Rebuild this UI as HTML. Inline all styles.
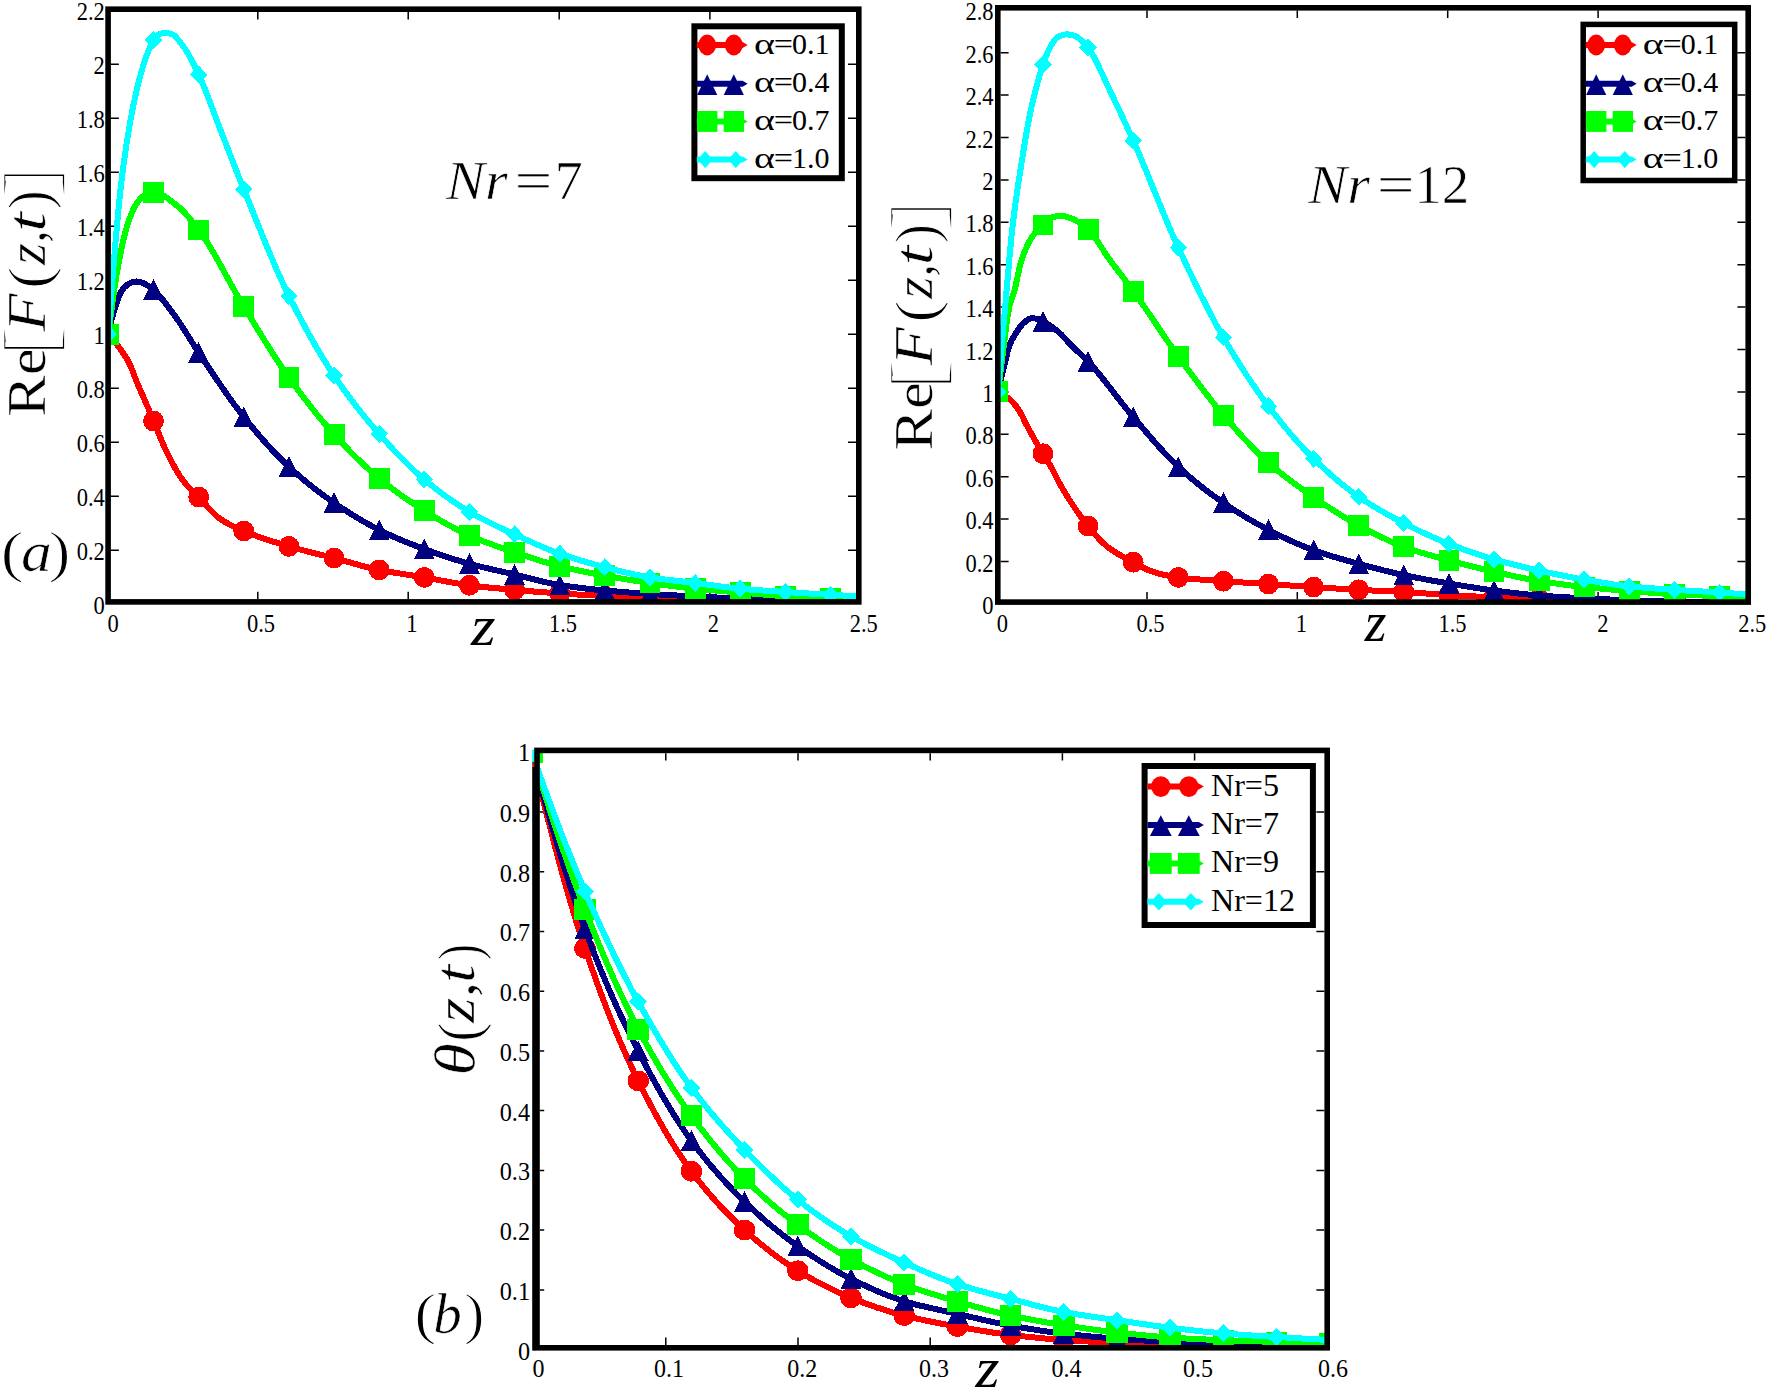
<!DOCTYPE html>
<html lang="en"><head><meta charset="utf-8"><title>Figure</title>
<style>html,body{margin:0;padding:0;background:#fff}svg{display:block}text{font-family:'Liberation Serif', serif;fill:#000}</style>
</head><body>
<svg width="1770" height="1390" viewBox="0 0 1770 1390">
<rect width="1770" height="1390" fill="#fff"/>
<clipPath id="cp1"><rect x="107.3" y="8.4" width="752.3" height="594.3"/></clipPath>
<path d="M257.8 12 v7.4 M257.8 599.1 v-7.4 M408.2 12 v7.4 M408.2 599.1 v-7.4 M559.2 12 v7.4 M559.2 599.1 v-7.4 M709.9 12 v7.4 M709.9 599.1 v-7.4 M110.9 550.2 h8 M856 550.2 h-8 M110.9 496.2 h8 M856 496.2 h-8 M110.9 442.2 h8 M856 442.2 h-8 M110.9 388.2 h8 M856 388.2 h-8 M110.9 334.2 h8 M856 334.2 h-8 M110.9 280.2 h8 M856 280.2 h-8 M110.9 226.2 h8 M856 226.2 h-8 M110.9 172.2 h8 M856 172.2 h-8 M110.9 118.2 h8 M856 118.2 h-8 M110.9 64.2 h8 M856 64.2 h-8" stroke="#000" stroke-width="1.5" fill="none"/>
<g clip-path="url(#cp1)" shape-rendering="crispEdges">
<path d="M108.4 334.2 L110.4 336.5 L112.4 338.8 L114.4 341.3 L116.4 343.9 L118.4 346.5 L120.4 349.2 L122.4 352 L124.4 354.9 L126.4 358.1 L128.4 361.6 L130.4 365.7 L132.4 370.6 L134.4 375.8 L136.4 381.1 L138.4 385.8 L140.4 390.4 L142.4 394.9 L144.4 399.4 L146.4 403.9 L148.4 408.6 L150.4 413.5 L152.4 418.3 L154.4 423.1 L156.4 427.9 L158.4 432.8 L160.4 437.7 L162.4 442.4 L164.4 447 L166.4 451.3 L168.4 455.4 L170.4 459.3 L172.4 463.1 L174.4 466.8 L176.4 470.3 L178.4 473.7 L180.4 476.8 L182.4 479.7 L184.4 482.3 L186.4 484.7 L188.4 486.9 L190.4 489 L192.4 490.9 L194.4 492.9 L196.4 494.8 L198.4 496.8 L200.4 498.9 L202.4 501.1 L204.4 503.4 L206.4 505.6 L208.4 507.8 L210.4 510 L212.4 512.1 L214.4 514.1 L216.4 515.9 L218.4 517.6 L220.4 519 L222.4 520.3 L224.4 521.6 L226.4 522.7 L228.4 523.9 L230.4 524.9 L232.4 525.9 L234.4 526.9 L236.4 527.8 L238.4 528.7 L240.4 529.6 L242.4 530.4 L244.4 531.3 L246.4 532.1 L248.4 532.9 L250.4 533.7 L252.4 534.4 L254.4 535.2 L256.4 535.9 L258.4 536.7 L260.4 537.4 L262.4 538.1 L264.4 538.7 L266.4 539.4 L268.4 540.1 L270.4 540.7 L272.4 541.4 L274.4 542 L276.4 542.6 L278.4 543.2 L280.4 543.9 L282.4 544.5 L284.4 545.1 L286.4 545.7 L288.4 546.2 L290.4 546.8 L292.4 547.4 L294.4 548 L296.4 548.5 L298.4 549.1 L300.4 549.6 L302.4 550.1 L304.4 550.6 L306.4 551.2 L308.4 551.7 L310.4 552.2 L312.4 552.7 L314.4 553.2 L316.4 553.7 L318.4 554.2 L320.4 554.7 L322.4 555.2 L324.4 555.6 L326.4 556.1 L328.4 556.7 L330.4 557.2 L332.4 557.7 L334.4 558.2 L336.4 558.7 L338.4 559.3 L340.4 559.8 L342.4 560.4 L344.4 560.9 L346.4 561.5 L348.4 562 L350.4 562.6 L352.4 563.1 L354.4 563.7 L356.4 564.3 L358.4 564.8 L360.4 565.4 L362.4 565.9 L364.4 566.4 L366.4 566.9 L368.4 567.4 L370.4 567.9 L372.4 568.4 L374.4 568.9 L376.4 569.3 L378.4 569.7 L380.4 570.1 L382.4 570.5 L384.4 570.9 L386.4 571.3 L388.4 571.6 L390.4 572 L392.4 572.3 L394.4 572.7 L396.4 573 L398.4 573.3 L400.4 573.6 L402.4 573.9 L404.4 574.2 L406.4 574.6 L408.4 574.9 L410.4 575.2 L412.4 575.5 L414.4 575.8 L416.4 576.1 L418.4 576.4 L420.4 576.7 L422.4 577.1 L424.4 577.4 L426.4 577.8 L428.4 578.1 L430.4 578.5 L432.4 578.8 L434.4 579.2 L436.4 579.6 L438.4 580 L440.4 580.4 L442.4 580.7 L444.4 581.1 L446.4 581.5 L448.4 581.9 L450.4 582.2 L452.4 582.6 L454.4 583 L456.4 583.3 L458.4 583.6 L460.4 584 L462.4 584.3 L464.4 584.6 L466.4 584.9 L468.4 585.2 L470.4 585.4 L472.4 585.7 L474.4 585.9 L476.4 586.2 L478.4 586.4 L480.4 586.6 L482.4 586.8 L484.4 587.1 L486.4 587.3 L488.4 587.5 L490.4 587.7 L492.4 587.9 L494.4 588.1 L496.4 588.3 L498.4 588.4 L500.4 588.6 L502.4 588.8 L504.4 589 L506.4 589.2 L508.4 589.4 L510.4 589.5 L512.4 589.7 L514.4 589.9 L516.4 590.1 L518.4 590.2 L520.4 590.4 L522.4 590.6 L524.4 590.7 L526.4 590.9 L528.4 591.1 L530.4 591.2 L532.4 591.4 L534.4 591.6 L536.4 591.7 L538.4 591.9 L540.4 592 L542.4 592.2 L544.4 592.3 L546.4 592.5 L548.4 592.6 L550.4 592.8 L552.4 592.9 L554.4 593 L556.4 593.2 L558.4 593.3 L560.4 593.4 L562.4 593.6 L564.4 593.7 L566.4 593.8 L568.4 594 L570.4 594.1 L572.4 594.2 L574.4 594.4 L576.4 594.5 L578.4 594.6 L580.4 594.7 L582.4 594.8 L584.4 595 L586.4 595.1 L588.4 595.2 L590.4 595.3 L592.4 595.4 L594.4 595.5 L596.4 595.6 L598.4 595.8 L600.4 595.9 L602.4 596 L604.4 596.1 L606.4 596.2 L608.4 596.3 L610.4 596.4 L612.4 596.5 L614.4 596.6 L616.4 596.7 L618.4 596.8 L620.4 596.9 L622.4 597 L624.4 597.1 L626.4 597.2 L628.4 597.3 L630.4 597.4 L632.4 597.5 L634.4 597.6 L636.4 597.6 L638.4 597.7 L640.4 597.8 L642.4 597.9 L644.4 598 L646.4 598.1 L648.4 598.1 L650.4 598.2 L652.4 598.3 L654.4 598.4 L656.4 598.4 L658.4 598.5 L660.4 598.6 L662.4 598.6 L664.4 598.7 L666.4 598.8 L668.4 598.8 L670.4 598.9 L672.4 598.9 L674.4 599 L676.4 599.1 L678.4 599.1 L680.4 599.2 L682.4 599.2 L684.4 599.3 L686.4 599.4 L688.4 599.4 L690.4 599.5 L692.4 599.5 L694.4 599.6 L696.4 599.6 L698.4 599.7 L700.4 599.8 L702.4 599.8 L704.4 599.9 L706.4 599.9 L708.4 600 L710.4 600 L712.4 600.1 L714.4 600.1 L716.4 600.2 L718.4 600.3 L720.4 600.3 L722.4 600.4 L724.4 600.4 L726.4 600.5 L728.4 600.5 L730.4 600.6 L732.4 600.6 L734.4 600.7 L736.4 600.7 L738.4 600.8 L740.4 600.8 L742.4 600.8 L744.4 600.9 L746.4 600.9 L748.4 601 L750.4 601 L752.4 601.1 L754.4 601.1 L756.4 601.2 L758.4 601.2 L760.4 601.2 L762.4 601.3 L764.4 601.3 L766.4 601.4 L768.4 601.4 L770.4 601.4 L772.4 601.5 L774.4 601.5 L776.4 601.5 L778.4 601.6 L780.4 601.6 L782.4 601.6 L784.4 601.7 L786.4 601.7 L788.4 601.8 L790.4 601.8 L792.4 601.8 L794.4 601.9 L796.4 601.9 L798.4 601.9 L800.4 602 L802.4 602 L804.4 602 L806.4 602 L808.4 602.1 L810.4 602.1 L812.4 602.1 L814.4 602.2 L816.4 602.2 L818.4 602.2 L820.4 602.3 L822.4 602.3 L824.4 602.3 L826.4 602.3 L828.4 602.4 L830.4 602.4 L832.4 602.4 L834.4 602.5 L836.4 602.5 L838.4 602.5 L840.4 602.5 L842.4 602.6 L844.4 602.6 L846.4 602.6 L848.4 602.6 L850.4 602.7 L852.4 602.7 L854.4 602.7 L856.4 602.7 L858.4 602.8 L860.4 602.8 L860.6 602.8" fill="none" stroke="#ff0000" stroke-width="6" stroke-linejoin="round"/>
<ellipse cx="108.4" cy="334.2" rx="10.4" ry="10.4" fill="#ff0000"/>
<ellipse cx="153.5" cy="421" rx="10.4" ry="10.4" fill="#ff0000"/>
<ellipse cx="198.7" cy="497.1" rx="10.4" ry="10.4" fill="#ff0000"/>
<ellipse cx="243.8" cy="531" rx="10.4" ry="10.4" fill="#ff0000"/>
<ellipse cx="288.9" cy="546.4" rx="10.4" ry="10.4" fill="#ff0000"/>
<ellipse cx="334.1" cy="558.1" rx="10.4" ry="10.4" fill="#ff0000"/>
<ellipse cx="379.2" cy="569.9" rx="10.4" ry="10.4" fill="#ff0000"/>
<ellipse cx="424.3" cy="577.4" rx="10.4" ry="10.4" fill="#ff0000"/>
<ellipse cx="469.4" cy="585.3" rx="10.4" ry="10.4" fill="#ff0000"/>
<ellipse cx="514.6" cy="589.9" rx="10.4" ry="10.4" fill="#ff0000"/>
<ellipse cx="559.7" cy="593.4" rx="10.4" ry="10.4" fill="#ff0000"/>
<ellipse cx="604.8" cy="596.1" rx="10.4" ry="10.4" fill="#ff0000"/>
<ellipse cx="650" cy="598.2" rx="10.4" ry="10.4" fill="#ff0000"/>
<ellipse cx="695.1" cy="599.6" rx="10.4" ry="10.4" fill="#ff0000"/>
<ellipse cx="740.2" cy="600.8" rx="10.4" ry="10.4" fill="#ff0000"/>
<ellipse cx="785.4" cy="601.7" rx="10.4" ry="10.4" fill="#ff0000"/>
<ellipse cx="830.5" cy="602.4" rx="10.4" ry="10.4" fill="#ff0000"/>
<path d="M108.4 334.2 L110.4 324.6 L112.4 316.5 L114.4 309.7 L116.4 303.6 L118.4 297.6 L120.4 293 L122.4 289.7 L124.4 287.3 L126.4 285.5 L128.4 284 L130.4 282.9 L132.4 282.3 L134.4 281.8 L136.4 281.5 L138.4 281.6 L140.4 282 L142.4 282.8 L144.4 283.8 L146.4 284.8 L148.4 286 L150.4 287.4 L152.4 289 L154.4 290.8 L156.4 292.7 L158.4 294.8 L160.4 297 L162.4 299.4 L164.4 301.9 L166.4 304.5 L168.4 307.1 L170.4 309.8 L172.4 312.5 L174.4 315.2 L176.4 318 L178.4 320.9 L180.4 323.9 L182.4 326.9 L184.4 330.1 L186.4 333.2 L188.4 336.4 L190.4 339.6 L192.4 342.8 L194.4 346 L196.4 349.1 L198.4 352.1 L200.4 355.1 L202.4 358.1 L204.4 361.1 L206.4 364.1 L208.4 367.1 L210.4 370 L212.4 373 L214.4 376 L216.4 379 L218.4 381.9 L220.4 384.8 L222.4 387.8 L224.4 390.7 L226.4 393.5 L228.4 396.4 L230.4 399.2 L232.4 401.9 L234.4 404.7 L236.4 407.3 L238.4 410 L240.4 412.6 L242.4 415.2 L244.4 417.7 L246.4 420.1 L248.4 422.6 L250.4 425 L252.4 427.4 L254.4 429.8 L256.4 432.2 L258.4 434.6 L260.4 436.9 L262.4 439.2 L264.4 441.5 L266.4 443.7 L268.4 445.9 L270.4 448.1 L272.4 450.3 L274.4 452.4 L276.4 454.5 L278.4 456.5 L280.4 458.6 L282.4 460.6 L284.4 462.5 L286.4 464.4 L288.4 466.3 L290.4 468.2 L292.4 470 L294.4 471.8 L296.4 473.6 L298.4 475.3 L300.4 477 L302.4 478.7 L304.4 480.4 L306.4 482.1 L308.4 483.7 L310.4 485.3 L312.4 486.9 L314.4 488.5 L316.4 490 L318.4 491.5 L320.4 493 L322.4 494.5 L324.4 496 L326.4 497.4 L328.4 498.9 L330.4 500.3 L332.4 501.7 L334.4 503 L336.4 504.4 L338.4 505.8 L340.4 507.1 L342.4 508.4 L344.4 509.7 L346.4 511 L348.4 512.3 L350.4 513.6 L352.4 514.8 L354.4 516.1 L356.4 517.3 L358.4 518.5 L360.4 519.7 L362.4 520.8 L364.4 522 L366.4 523.1 L368.4 524.2 L370.4 525.3 L372.4 526.4 L374.4 527.5 L376.4 528.5 L378.4 529.5 L380.4 530.5 L382.4 531.5 L384.4 532.4 L386.4 533.4 L388.4 534.3 L390.4 535.3 L392.4 536.2 L394.4 537.1 L396.4 537.9 L398.4 538.8 L400.4 539.7 L402.4 540.5 L404.4 541.3 L406.4 542.2 L408.4 543 L410.4 543.8 L412.4 544.6 L414.4 545.3 L416.4 546.1 L418.4 546.9 L420.4 547.6 L422.4 548.4 L424.4 549.1 L426.4 549.9 L428.4 550.6 L430.4 551.3 L432.4 552 L434.4 552.7 L436.4 553.4 L438.4 554.1 L440.4 554.8 L442.4 555.5 L444.4 556.2 L446.4 556.8 L448.4 557.5 L450.4 558.1 L452.4 558.8 L454.4 559.4 L456.4 560 L458.4 560.6 L460.4 561.2 L462.4 561.8 L464.4 562.4 L466.4 563 L468.4 563.5 L470.4 564.1 L472.4 564.6 L474.4 565.1 L476.4 565.6 L478.4 566.1 L480.4 566.6 L482.4 567.1 L484.4 567.6 L486.4 568.1 L488.4 568.5 L490.4 569 L492.4 569.5 L494.4 569.9 L496.4 570.4 L498.4 570.8 L500.4 571.3 L502.4 571.7 L504.4 572.2 L506.4 572.6 L508.4 573.1 L510.4 573.5 L512.4 574 L514.4 574.5 L516.4 574.9 L518.4 575.4 L520.4 575.9 L522.4 576.4 L524.4 576.9 L526.4 577.4 L528.4 577.9 L530.4 578.5 L532.4 579 L534.4 579.5 L536.4 580 L538.4 580.5 L540.4 581 L542.4 581.5 L544.4 581.9 L546.4 582.4 L548.4 582.8 L550.4 583.3 L552.4 583.7 L554.4 584.1 L556.4 584.4 L558.4 584.8 L560.4 585.1 L562.4 585.4 L564.4 585.7 L566.4 586 L568.4 586.3 L570.4 586.6 L572.4 586.9 L574.4 587.1 L576.4 587.4 L578.4 587.6 L580.4 587.9 L582.4 588.1 L584.4 588.4 L586.4 588.6 L588.4 588.8 L590.4 589 L592.4 589.3 L594.4 589.5 L596.4 589.7 L598.4 589.9 L600.4 590.1 L602.4 590.3 L604.4 590.5 L606.4 590.6 L608.4 590.8 L610.4 591 L612.4 591.2 L614.4 591.4 L616.4 591.5 L618.4 591.7 L620.4 591.9 L622.4 592 L624.4 592.2 L626.4 592.3 L628.4 592.5 L630.4 592.6 L632.4 592.8 L634.4 592.9 L636.4 593.1 L638.4 593.2 L640.4 593.4 L642.4 593.5 L644.4 593.6 L646.4 593.8 L648.4 593.9 L650.4 594 L652.4 594.2 L654.4 594.3 L656.4 594.4 L658.4 594.5 L660.4 594.6 L662.4 594.8 L664.4 594.9 L666.4 595 L668.4 595.1 L670.4 595.2 L672.4 595.3 L674.4 595.4 L676.4 595.5 L678.4 595.6 L680.4 595.7 L682.4 595.9 L684.4 596 L686.4 596.1 L688.4 596.2 L690.4 596.3 L692.4 596.4 L694.4 596.5 L696.4 596.6 L698.4 596.7 L700.4 596.8 L702.4 596.9 L704.4 597 L706.4 597.1 L708.4 597.2 L710.4 597.2 L712.4 597.3 L714.4 597.4 L716.4 597.5 L718.4 597.6 L720.4 597.7 L722.4 597.8 L724.4 597.9 L726.4 598 L728.4 598.1 L730.4 598.2 L732.4 598.3 L734.4 598.3 L736.4 598.4 L738.4 598.5 L740.4 598.6 L742.4 598.7 L744.4 598.8 L746.4 598.9 L748.4 599 L750.4 599.1 L752.4 599.1 L754.4 599.2 L756.4 599.3 L758.4 599.4 L760.4 599.5 L762.4 599.6 L764.4 599.7 L766.4 599.7 L768.4 599.8 L770.4 599.9 L772.4 600 L774.4 600.1 L776.4 600.2 L778.4 600.2 L780.4 600.3 L782.4 600.4 L784.4 600.5 L786.4 600.5 L788.4 600.6 L790.4 600.7 L792.4 600.8 L794.4 600.8 L796.4 600.9 L798.4 601 L800.4 601 L802.4 601.1 L804.4 601.2 L806.4 601.2 L808.4 601.3 L810.4 601.4 L812.4 601.4 L814.4 601.5 L816.4 601.6 L818.4 601.6 L820.4 601.7 L822.4 601.8 L824.4 601.8 L826.4 601.9 L828.4 601.9 L830.4 602 L832.4 602.1 L834.4 602.1 L836.4 602.2 L838.4 602.2 L840.4 602.3 L842.4 602.3 L844.4 602.4 L846.4 602.4 L848.4 602.5 L850.4 602.5 L852.4 602.6 L854.4 602.6 L856.4 602.7 L858.4 602.7 L860.4 602.8 L860.6 602.8" fill="none" stroke="#000080" stroke-width="6" stroke-linejoin="round"/>
<polygon points="108.4,323.6 118.8,344.4 98,344.4" fill="#000080"/>
<polygon points="153.5,279.4 163.9,300.2 143.1,300.2" fill="#000080"/>
<polygon points="198.7,341.9 209.1,362.7 188.3,362.7" fill="#000080"/>
<polygon points="243.8,406.3 254.2,427.1 233.4,427.1" fill="#000080"/>
<polygon points="288.9,456.2 299.3,477 278.5,477" fill="#000080"/>
<polygon points="334.1,492.2 344.4,513 323.7,513" fill="#000080"/>
<polygon points="379.2,519.3 389.6,540.1 368.8,540.1" fill="#000080"/>
<polygon points="424.3,538.5 434.7,559.3 413.9,559.3" fill="#000080"/>
<polygon points="469.4,553.2 479.8,574 459,574" fill="#000080"/>
<polygon points="514.6,563.9 525,584.7 504.2,584.7" fill="#000080"/>
<polygon points="559.7,574.4 570.1,595.2 549.3,595.2" fill="#000080"/>
<polygon points="604.8,579.9 615.2,600.7 594.4,600.7" fill="#000080"/>
<polygon points="650,583.4 660.4,604.2 639.6,604.2" fill="#000080"/>
<polygon points="695.1,585.9 705.5,606.7 684.7,606.7" fill="#000080"/>
<polygon points="740.2,588 750.6,608.8 729.8,608.8" fill="#000080"/>
<polygon points="785.4,589.9 795.8,610.7 775,610.7" fill="#000080"/>
<polygon points="830.5,591.4 840.9,612.2 820.1,612.2" fill="#000080"/>
<path d="M108.4 334.2 L110.4 318 L112.4 302.8 L114.4 288.7 L116.4 275.8 L118.4 264.2 L120.4 253.8 L122.4 244.2 L124.4 235.6 L126.4 228.3 L128.4 222.1 L130.4 216.4 L132.4 211.4 L134.4 207.1 L136.4 203.7 L138.4 201 L140.4 198.6 L142.4 196.6 L144.4 195.1 L146.4 194.1 L148.4 193.2 L150.4 192.6 L152.4 192.2 L154.4 192.1 L156.4 192.4 L158.4 193 L160.4 193.8 L162.4 194.9 L164.4 196.1 L166.4 197.4 L168.4 198.9 L170.4 200.5 L172.4 202 L174.4 203.6 L176.4 205.2 L178.4 206.8 L180.4 208.5 L182.4 210.4 L184.4 212.5 L186.4 214.7 L188.4 217 L190.4 219.4 L192.4 221.8 L194.4 224.4 L196.4 226.9 L198.4 229.6 L200.4 232.2 L202.4 235.1 L204.4 238 L206.4 241.1 L208.4 244.3 L210.4 247.5 L212.4 250.9 L214.4 254.3 L216.4 257.8 L218.4 261.4 L220.4 265 L222.4 268.6 L224.4 272.3 L226.4 275.9 L228.4 279.6 L230.4 283.2 L232.4 286.9 L234.4 290.4 L236.4 294 L238.4 297.5 L240.4 300.9 L242.4 304.3 L244.4 307.6 L246.4 310.9 L248.4 314.1 L250.4 317.4 L252.4 320.7 L254.4 324 L256.4 327.2 L258.4 330.5 L260.4 333.7 L262.4 337 L264.4 340.2 L266.4 343.4 L268.4 346.6 L270.4 349.7 L272.4 352.9 L274.4 356 L276.4 359 L278.4 362.1 L280.4 365.1 L282.4 368 L284.4 371 L286.4 373.8 L288.4 376.7 L290.4 379.5 L292.4 382.2 L294.4 385 L296.4 387.7 L298.4 390.4 L300.4 393.1 L302.4 395.8 L304.4 398.4 L306.4 401 L308.4 403.6 L310.4 406.1 L312.4 408.7 L314.4 411.2 L316.4 413.7 L318.4 416.1 L320.4 418.5 L322.4 420.9 L324.4 423.3 L326.4 425.6 L328.4 428 L330.4 430.2 L332.4 432.5 L334.4 434.7 L336.4 436.9 L338.4 439 L340.4 441.2 L342.4 443.3 L344.4 445.5 L346.4 447.5 L348.4 449.6 L350.4 451.7 L352.4 453.7 L354.4 455.7 L356.4 457.7 L358.4 459.6 L360.4 461.6 L362.4 463.5 L364.4 465.4 L366.4 467.2 L368.4 469.1 L370.4 470.9 L372.4 472.6 L374.4 474.4 L376.4 476.1 L378.4 477.8 L380.4 479.4 L382.4 481 L384.4 482.6 L386.4 484.2 L388.4 485.8 L390.4 487.3 L392.4 488.8 L394.4 490.4 L396.4 491.8 L398.4 493.3 L400.4 494.7 L402.4 496.2 L404.4 497.6 L406.4 499 L408.4 500.3 L410.4 501.7 L412.4 503 L414.4 504.4 L416.4 505.7 L418.4 507 L420.4 508.2 L422.4 509.5 L424.4 510.8 L426.4 512 L428.4 513.2 L430.4 514.5 L432.4 515.7 L434.4 516.9 L436.4 518.1 L438.4 519.2 L440.4 520.4 L442.4 521.6 L444.4 522.7 L446.4 523.8 L448.4 524.9 L450.4 526 L452.4 527.1 L454.4 528.2 L456.4 529.2 L458.4 530.2 L460.4 531.2 L462.4 532.2 L464.4 533.2 L466.4 534.1 L468.4 535 L470.4 535.9 L472.4 536.8 L474.4 537.6 L476.4 538.5 L478.4 539.3 L480.4 540.1 L482.4 540.9 L484.4 541.7 L486.4 542.4 L488.4 543.2 L490.4 543.9 L492.4 544.6 L494.4 545.4 L496.4 546.1 L498.4 546.8 L500.4 547.5 L502.4 548.2 L504.4 548.9 L506.4 549.5 L508.4 550.2 L510.4 550.9 L512.4 551.6 L514.4 552.2 L516.4 552.9 L518.4 553.6 L520.4 554.3 L522.4 554.9 L524.4 555.6 L526.4 556.3 L528.4 556.9 L530.4 557.6 L532.4 558.2 L534.4 558.9 L536.4 559.5 L538.4 560.1 L540.4 560.8 L542.4 561.4 L544.4 562 L546.4 562.6 L548.4 563.2 L550.4 563.7 L552.4 564.3 L554.4 564.8 L556.4 565.4 L558.4 565.9 L560.4 566.4 L562.4 566.9 L564.4 567.3 L566.4 567.8 L568.4 568.3 L570.4 568.7 L572.4 569.2 L574.4 569.6 L576.4 570 L578.4 570.5 L580.4 570.9 L582.4 571.3 L584.4 571.7 L586.4 572.1 L588.4 572.5 L590.4 572.9 L592.4 573.3 L594.4 573.7 L596.4 574 L598.4 574.4 L600.4 574.8 L602.4 575.2 L604.4 575.5 L606.4 575.9 L608.4 576.3 L610.4 576.6 L612.4 577 L614.4 577.3 L616.4 577.7 L618.4 578 L620.4 578.4 L622.4 578.7 L624.4 579 L626.4 579.4 L628.4 579.7 L630.4 580 L632.4 580.3 L634.4 580.7 L636.4 581 L638.4 581.3 L640.4 581.6 L642.4 581.9 L644.4 582.2 L646.4 582.5 L648.4 582.8 L650.4 583.1 L652.4 583.3 L654.4 583.6 L656.4 583.9 L658.4 584.2 L660.4 584.5 L662.4 584.7 L664.4 585 L666.4 585.3 L668.4 585.5 L670.4 585.8 L672.4 586.1 L674.4 586.3 L676.4 586.6 L678.4 586.8 L680.4 587.1 L682.4 587.3 L684.4 587.5 L686.4 587.8 L688.4 588 L690.4 588.2 L692.4 588.4 L694.4 588.6 L696.4 588.8 L698.4 589 L700.4 589.2 L702.4 589.4 L704.4 589.6 L706.4 589.8 L708.4 589.9 L710.4 590.1 L712.4 590.3 L714.4 590.4 L716.4 590.6 L718.4 590.8 L720.4 590.9 L722.4 591.1 L724.4 591.2 L726.4 591.4 L728.4 591.6 L730.4 591.7 L732.4 591.9 L734.4 592 L736.4 592.2 L738.4 592.4 L740.4 592.5 L742.4 592.7 L744.4 592.8 L746.4 593 L748.4 593.2 L750.4 593.4 L752.4 593.5 L754.4 593.7 L756.4 593.9 L758.4 594.1 L760.4 594.2 L762.4 594.4 L764.4 594.6 L766.4 594.7 L768.4 594.9 L770.4 595.1 L772.4 595.2 L774.4 595.4 L776.4 595.5 L778.4 595.7 L780.4 595.8 L782.4 595.9 L784.4 596 L786.4 596.2 L788.4 596.3 L790.4 596.4 L792.4 596.5 L794.4 596.6 L796.4 596.7 L798.4 596.8 L800.4 596.9 L802.4 597 L804.4 597.1 L806.4 597.2 L808.4 597.2 L810.4 597.3 L812.4 597.4 L814.4 597.5 L816.4 597.6 L818.4 597.7 L820.4 597.7 L822.4 597.8 L824.4 597.9 L826.4 598 L828.4 598 L830.4 598.1 L832.4 598.2 L834.4 598.2 L836.4 598.3 L838.4 598.4 L840.4 598.4 L842.4 598.5 L844.4 598.6 L846.4 598.6 L848.4 598.7 L850.4 598.7 L852.4 598.8 L854.4 598.8 L856.4 598.9 L858.4 598.9 L860.4 599 L860.6 599" fill="none" stroke="#00ff00" stroke-width="6" stroke-linejoin="round"/>
<rect x="98" y="323.8" width="20.9" height="20.9" fill="#00ff00"/>
<rect x="143.1" y="181.7" width="20.9" height="20.9" fill="#00ff00"/>
<rect x="188.2" y="219.5" width="20.9" height="20.9" fill="#00ff00"/>
<rect x="233.3" y="296.2" width="20.9" height="20.9" fill="#00ff00"/>
<rect x="278.5" y="366.9" width="20.9" height="20.9" fill="#00ff00"/>
<rect x="323.6" y="423.9" width="20.9" height="20.9" fill="#00ff00"/>
<rect x="368.7" y="467.9" width="20.9" height="20.9" fill="#00ff00"/>
<rect x="413.9" y="500.2" width="20.9" height="20.9" fill="#00ff00"/>
<rect x="459" y="525" width="20.9" height="20.9" fill="#00ff00"/>
<rect x="504.1" y="541.8" width="20.9" height="20.9" fill="#00ff00"/>
<rect x="549.2" y="555.8" width="20.9" height="20.9" fill="#00ff00"/>
<rect x="594.4" y="565.1" width="20.9" height="20.9" fill="#00ff00"/>
<rect x="639.5" y="572.5" width="20.9" height="20.9" fill="#00ff00"/>
<rect x="684.6" y="578.2" width="20.9" height="20.9" fill="#00ff00"/>
<rect x="729.8" y="582" width="20.9" height="20.9" fill="#00ff00"/>
<rect x="774.9" y="585.6" width="20.9" height="20.9" fill="#00ff00"/>
<rect x="820" y="587.6" width="20.9" height="20.9" fill="#00ff00"/>
<path d="M108.4 334.2 L110.4 306.1 L112.4 279.6 L114.4 255.3 L116.4 232.2 L118.4 210.3 L120.4 190.6 L122.4 173.7 L124.4 158.6 L126.4 144.9 L128.4 132.5 L130.4 120.9 L132.4 110.2 L134.4 100.4 L136.4 91.3 L138.4 83.1 L140.4 75.5 L142.4 68.4 L144.4 62 L146.4 56.2 L148.4 50.9 L150.4 46.1 L152.4 42 L154.4 39 L156.4 36.5 L158.4 34.8 L160.4 33.9 L162.4 33.3 L164.4 32.9 L166.4 32.8 L168.4 33.2 L170.4 33.7 L172.4 34.5 L174.4 35.6 L176.4 37.5 L178.4 39.8 L180.4 42.4 L182.4 45 L184.4 47.9 L186.4 51 L188.4 54.4 L190.4 58 L192.4 61.8 L194.4 65.8 L196.4 69.9 L198.4 74.1 L200.4 78.4 L202.4 82.9 L204.4 87.8 L206.4 92.8 L208.4 98 L210.4 103.3 L212.4 108.6 L214.4 114 L216.4 119.3 L218.4 124.6 L220.4 129.7 L222.4 134.8 L224.4 140 L226.4 145.1 L228.4 150.3 L230.4 155.4 L232.4 160.6 L234.4 165.7 L236.4 170.8 L238.4 175.9 L240.4 181 L242.4 186 L244.4 190.9 L246.4 195.8 L248.4 200.8 L250.4 205.8 L252.4 210.8 L254.4 215.7 L256.4 220.7 L258.4 225.7 L260.4 230.6 L262.4 235.6 L264.4 240.5 L266.4 245.3 L268.4 250.1 L270.4 254.9 L272.4 259.6 L274.4 264.3 L276.4 268.9 L278.4 273.5 L280.4 277.9 L282.4 282.3 L284.4 286.6 L286.4 290.8 L288.4 294.9 L290.4 299 L292.4 303 L294.4 306.9 L296.4 310.8 L298.4 314.6 L300.4 318.4 L302.4 322.2 L304.4 325.9 L306.4 329.6 L308.4 333.2 L310.4 336.8 L312.4 340.3 L314.4 343.8 L316.4 347.3 L318.4 350.6 L320.4 354 L322.4 357.3 L324.4 360.5 L326.4 363.7 L328.4 366.9 L330.4 370 L332.4 373 L334.4 376 L336.4 379 L338.4 381.9 L340.4 384.8 L342.4 387.6 L344.4 390.4 L346.4 393.2 L348.4 395.9 L350.4 398.6 L352.4 401.2 L354.4 403.9 L356.4 406.4 L358.4 409 L360.4 411.5 L362.4 414 L364.4 416.5 L366.4 418.9 L368.4 421.3 L370.4 423.7 L372.4 426.1 L374.4 428.4 L376.4 430.7 L378.4 433 L380.4 435.3 L382.4 437.5 L384.4 439.8 L386.4 442 L388.4 444.2 L390.4 446.4 L392.4 448.6 L394.4 450.7 L396.4 452.8 L398.4 454.9 L400.4 457 L402.4 459 L404.4 461.1 L406.4 463.1 L408.4 465 L410.4 467 L412.4 468.9 L414.4 470.7 L416.4 472.6 L418.4 474.4 L420.4 476.2 L422.4 477.9 L424.4 479.6 L426.4 481.2 L428.4 482.9 L430.4 484.5 L432.4 486.1 L434.4 487.7 L436.4 489.2 L438.4 490.8 L440.4 492.3 L442.4 493.8 L444.4 495.3 L446.4 496.7 L448.4 498.1 L450.4 499.5 L452.4 500.9 L454.4 502.3 L456.4 503.6 L458.4 504.9 L460.4 506.2 L462.4 507.5 L464.4 508.8 L466.4 510 L468.4 511.2 L470.4 512.4 L472.4 513.5 L474.4 514.7 L476.4 515.8 L478.4 516.9 L480.4 517.9 L482.4 519 L484.4 520 L486.4 521 L488.4 522 L490.4 523 L492.4 524 L494.4 525 L496.4 526 L498.4 526.9 L500.4 527.8 L502.4 528.8 L504.4 529.7 L506.4 530.6 L508.4 531.6 L510.4 532.5 L512.4 533.4 L514.4 534.3 L516.4 535.2 L518.4 536.2 L520.4 537.1 L522.4 538 L524.4 538.9 L526.4 539.8 L528.4 540.7 L530.4 541.6 L532.4 542.5 L534.4 543.4 L536.4 544.3 L538.4 545.2 L540.4 546 L542.4 546.9 L544.4 547.7 L546.4 548.5 L548.4 549.3 L550.4 550.1 L552.4 550.9 L554.4 551.7 L556.4 552.4 L558.4 553.1 L560.4 553.8 L562.4 554.5 L564.4 555.2 L566.4 555.9 L568.4 556.6 L570.4 557.2 L572.4 557.9 L574.4 558.5 L576.4 559.1 L578.4 559.8 L580.4 560.4 L582.4 561 L584.4 561.6 L586.4 562.2 L588.4 562.7 L590.4 563.3 L592.4 563.9 L594.4 564.4 L596.4 565 L598.4 565.5 L600.4 566 L602.4 566.6 L604.4 567.1 L606.4 567.6 L608.4 568.1 L610.4 568.6 L612.4 569.1 L614.4 569.7 L616.4 570.2 L618.4 570.7 L620.4 571.2 L622.4 571.7 L624.4 572.1 L626.4 572.6 L628.4 573.1 L630.4 573.5 L632.4 574 L634.4 574.4 L636.4 574.9 L638.4 575.3 L640.4 575.7 L642.4 576.1 L644.4 576.4 L646.4 576.8 L648.4 577.1 L650.4 577.5 L652.4 577.8 L654.4 578.1 L656.4 578.4 L658.4 578.6 L660.4 578.9 L662.4 579.2 L664.4 579.4 L666.4 579.7 L668.4 579.9 L670.4 580.2 L672.4 580.4 L674.4 580.6 L676.4 580.8 L678.4 581.1 L680.4 581.3 L682.4 581.5 L684.4 581.7 L686.4 582 L688.4 582.2 L690.4 582.4 L692.4 582.7 L694.4 582.9 L696.4 583.2 L698.4 583.4 L700.4 583.7 L702.4 584 L704.4 584.2 L706.4 584.5 L708.4 584.8 L710.4 585 L712.4 585.3 L714.4 585.6 L716.4 585.9 L718.4 586.1 L720.4 586.4 L722.4 586.7 L724.4 586.9 L726.4 587.2 L728.4 587.4 L730.4 587.7 L732.4 587.9 L734.4 588.1 L736.4 588.3 L738.4 588.5 L740.4 588.7 L742.4 588.9 L744.4 589.1 L746.4 589.2 L748.4 589.4 L750.4 589.6 L752.4 589.7 L754.4 589.9 L756.4 590 L758.4 590.2 L760.4 590.3 L762.4 590.5 L764.4 590.6 L766.4 590.7 L768.4 590.9 L770.4 591 L772.4 591.1 L774.4 591.3 L776.4 591.4 L778.4 591.5 L780.4 591.7 L782.4 591.8 L784.4 591.9 L786.4 592.1 L788.4 592.2 L790.4 592.3 L792.4 592.5 L794.4 592.6 L796.4 592.7 L798.4 592.9 L800.4 593 L802.4 593.1 L804.4 593.2 L806.4 593.4 L808.4 593.5 L810.4 593.6 L812.4 593.7 L814.4 593.9 L816.4 594 L818.4 594.1 L820.4 594.2 L822.4 594.3 L824.4 594.4 L826.4 594.6 L828.4 594.7 L830.4 594.8 L832.4 594.9 L834.4 595 L836.4 595.1 L838.4 595.2 L840.4 595.4 L842.4 595.5 L844.4 595.6 L846.4 595.7 L848.4 595.8 L850.4 595.9 L852.4 596 L854.4 596.1 L856.4 596.2 L858.4 596.3 L860.4 596.4 L860.6 596.4" fill="none" stroke="#00ffff" stroke-width="6" stroke-linejoin="round"/>
<polygon points="108.4,325.2 117.1,334.2 108.4,343.2 99.7,334.2" fill="#00ffff"/>
<polygon points="153.5,31.2 162.2,40.2 153.5,49.2 144.8,40.2" fill="#00ffff"/>
<polygon points="198.7,65.6 207.4,74.6 198.7,83.6 190,74.6" fill="#00ffff"/>
<polygon points="243.8,180.4 252.5,189.4 243.8,198.4 235.1,189.4" fill="#00ffff"/>
<polygon points="288.9,287 297.6,296 288.9,305 280.2,296" fill="#00ffff"/>
<polygon points="334.1,366.5 342.8,375.5 334.1,384.5 325.4,375.5" fill="#00ffff"/>
<polygon points="379.2,424.9 387.9,433.9 379.2,442.9 370.5,433.9" fill="#00ffff"/>
<polygon points="424.3,470.5 433,479.5 424.3,488.5 415.6,479.5" fill="#00ffff"/>
<polygon points="469.4,502.8 478.1,511.8 469.4,520.8 460.7,511.8" fill="#00ffff"/>
<polygon points="514.6,525.4 523.3,534.4 514.6,543.4 505.9,534.4" fill="#00ffff"/>
<polygon points="559.7,544.6 568.4,553.6 559.7,562.6 551,553.6" fill="#00ffff"/>
<polygon points="604.8,558.2 613.5,567.2 604.8,576.2 596.1,567.2" fill="#00ffff"/>
<polygon points="650,568.4 658.7,577.4 650,586.4 641.3,577.4" fill="#00ffff"/>
<polygon points="695.1,574 703.8,583 695.1,592 686.4,583" fill="#00ffff"/>
<polygon points="740.2,579.7 748.9,588.7 740.2,597.7 731.5,588.7" fill="#00ffff"/>
<polygon points="785.4,583 794.1,592 785.4,601 776.6,592" fill="#00ffff"/>
<polygon points="830.5,585.8 839.2,594.8 830.5,603.8 821.8,594.8" fill="#00ffff"/>
</g>
<rect x="108.1" y="9.2" width="750.7" height="592.7" fill="none" stroke="#000" stroke-width="5.6"/>
<rect x="694.4" y="26.3" width="147.4" height="151.9" fill="#fff" stroke="#000" stroke-width="6"/>
<path d="M696.8 42 H742.6 l5 3 l-5 3 H696.8 Z" fill="#ff0000"/>
<ellipse cx="707.2" cy="45" rx="8.9" ry="10.4" fill="#ff0000"/>
<ellipse cx="733.8" cy="45" rx="8.9" ry="10.4" fill="#ff0000"/>
<text font-size="30"><tspan x="754" y="54" textLength="20.91" lengthAdjust="spacingAndGlyphs">α</tspan><tspan x="773.8" y="54" textLength="19.29" lengthAdjust="spacingAndGlyphs">=</tspan><tspan x="792.1" y="54">0.1</tspan></text>
<path d="M696.8 80.8 H742.6 l5 3 l-5 3 H696.8 Z" fill="#000080"/>
<polygon points="707.2,74.2 717.3,95 697.1,95" fill="#000080"/>
<polygon points="733.8,74.2 743.9,95 723.7,95" fill="#000080"/>
<text font-size="30"><tspan x="754" y="92.3" textLength="20.91" lengthAdjust="spacingAndGlyphs">α</tspan><tspan x="773.8" y="92.3" textLength="19.29" lengthAdjust="spacingAndGlyphs">=</tspan><tspan x="792.1" y="92.3">0.4</tspan></text>
<path d="M696.8 118.4 H742.6 l5 3 l-5 3 H696.8 Z" fill="#00ff00"/>
<rect x="697.1" y="111" width="20.3" height="20.9" fill="#00ff00"/>
<rect x="723.7" y="111" width="20.3" height="20.9" fill="#00ff00"/>
<text font-size="30"><tspan x="754" y="129.8" textLength="20.91" lengthAdjust="spacingAndGlyphs">α</tspan><tspan x="773.8" y="129.8" textLength="19.29" lengthAdjust="spacingAndGlyphs">=</tspan><tspan x="792.1" y="129.8">0.7</tspan></text>
<path d="M696.8 156.6 H742.6 l5 3 l-5 3 H696.8 Z" fill="#00ffff"/>
<polygon points="705.2,150.9 712.6,159.6 705.2,168.3 697.8,159.6" fill="#00ffff"/>
<polygon points="735.8,150.9 743.2,159.6 735.8,168.3 728.4,159.6" fill="#00ffff"/>
<text font-size="30"><tspan x="754" y="168.3" textLength="20.91" lengthAdjust="spacingAndGlyphs">α</tspan><tspan x="773.8" y="168.3" textLength="19.29" lengthAdjust="spacingAndGlyphs">=</tspan><tspan x="792.1" y="168.3">1.0</tspan></text>
<text transform="translate(104.8 614.2) scale(0.9 1)" font-size="25" text-anchor="end">0</text>
<text transform="translate(104.8 560.2) scale(0.9 1)" font-size="25" text-anchor="end">0.2</text>
<text transform="translate(104.8 506.2) scale(0.9 1)" font-size="25" text-anchor="end">0.4</text>
<text transform="translate(104.8 452.2) scale(0.9 1)" font-size="25" text-anchor="end">0.6</text>
<text transform="translate(104.8 398.2) scale(0.9 1)" font-size="25" text-anchor="end">0.8</text>
<text transform="translate(104.8 344.2) scale(0.9 1)" font-size="25" text-anchor="end">1</text>
<text transform="translate(104.8 290.2) scale(0.9 1)" font-size="25" text-anchor="end">1.2</text>
<text transform="translate(104.8 236.2) scale(0.9 1)" font-size="25" text-anchor="end">1.4</text>
<text transform="translate(104.8 182.2) scale(0.9 1)" font-size="25" text-anchor="end">1.6</text>
<text transform="translate(104.8 128.2) scale(0.9 1)" font-size="25" text-anchor="end">1.8</text>
<text transform="translate(104.8 74.2) scale(0.9 1)" font-size="25" text-anchor="end">2</text>
<text transform="translate(104.8 20.2) scale(0.9 1)" font-size="25" text-anchor="end">2.2</text>
<text transform="translate(113 632) scale(0.9 1)" font-size="25" text-anchor="middle">0</text>
<text transform="translate(261 632) scale(0.9 1)" font-size="25" text-anchor="middle">0.5</text>
<text transform="translate(411.9 632) scale(0.9 1)" font-size="25" text-anchor="middle">1</text>
<text transform="translate(563 632) scale(0.9 1)" font-size="25" text-anchor="middle">1.5</text>
<text transform="translate(713.4 632) scale(0.9 1)" font-size="25" text-anchor="middle">2</text>
<text transform="translate(863.8 632) scale(0.9 1)" font-size="25" text-anchor="middle">2.5</text>
<text transform="translate(471 645) scale(1.13 1.0)" font-size="56" font-style="italic" text-anchor="start">z</text>
<text font-size="56"><tspan x="0.6" y="570.8" textLength="23.32" lengthAdjust="spacingAndGlyphs" stroke="#fff" stroke-width="1.1">(</tspan><tspan x="21" y="570.8" font-style="italic" textLength="30.8" lengthAdjust="spacingAndGlyphs" stroke="#fff" stroke-width="0.6">a</tspan><tspan x="48.6" y="570.8" textLength="22.01" lengthAdjust="spacingAndGlyphs" stroke="#fff" stroke-width="1.1">)</tspan></text>
<text font-size="55"><tspan x="446" y="198.8" font-style="italic" textLength="61.58" lengthAdjust="spacingAndGlyphs" stroke="#fff" stroke-width="0.7">Nr</tspan><tspan x="514.5" y="198.8" textLength="37.86" lengthAdjust="spacingAndGlyphs" stroke="#fff" stroke-width="0.7">=</tspan><tspan x="554.6" y="198.8" textLength="28.32" lengthAdjust="spacingAndGlyphs" stroke="#fff" stroke-width="0.7">7</tspan></text>
<text font-size="54" transform="translate(44.9 414.7) rotate(-90)"><tspan x="-2" y="0" textLength="69.12" lengthAdjust="spacingAndGlyphs" stroke="#fff" stroke-width="0.5">Re</tspan><tspan x="57.5" y="10" font-size="73.44" textLength="32.92" lengthAdjust="spacingAndGlyphs" stroke="#fff" stroke-width="1.77">[</tspan><tspan x="83.2" y="0" font-style="italic" textLength="37.95" lengthAdjust="spacingAndGlyphs" stroke="#fff" stroke-width="0.5">F</tspan><tspan x="125.6" y="4" font-size="59.4" textLength="22.3" lengthAdjust="spacingAndGlyphs" stroke="#fff" stroke-width="0.99">(</tspan><tspan x="150" y="0" font-style="italic" textLength="21.65" lengthAdjust="spacingAndGlyphs" stroke="#fff" stroke-width="0.5">z</tspan><tspan x="172.2" y="0" textLength="12.15" lengthAdjust="spacingAndGlyphs" stroke="#fff" stroke-width="0.5">,</tspan><tspan x="182.8" y="0" font-style="italic" textLength="19.97" lengthAdjust="spacingAndGlyphs" stroke="#fff" stroke-width="0.5">t</tspan><tspan x="205.4" y="4" font-size="59.4" textLength="19.06" lengthAdjust="spacingAndGlyphs" stroke="#fff" stroke-width="0.99">)</tspan><tspan x="215.6" y="10" font-size="73.44" textLength="32.92" lengthAdjust="spacingAndGlyphs" stroke="#fff" stroke-width="1.77">]</tspan></text>
<g transform="translate(44.9 414.7) rotate(-90)" fill="#fff"><rect x="67.7" y="-39.7" width="4.9" height="57.7"/><rect x="233.8" y="-39.7" width="4.9" height="57.7"/></g>
<clipPath id="cp2"><rect x="997" y="7" width="752" height="595.9"/></clipPath>
<path d="M1147 10.6 v7.4 M1147 599.3 v-7.4 M1297.3 10.6 v7.4 M1297.3 599.3 v-7.4 M1447.7 10.6 v7.4 M1447.7 599.3 v-7.4 M1598.1 10.6 v7.4 M1598.1 599.3 v-7.4 M1000.6 561.5 h8 M1745.4 561.5 h-8 M1000.6 519.1 h8 M1745.4 519.1 h-8 M1000.6 476.7 h8 M1745.4 476.7 h-8 M1000.6 434.3 h8 M1745.4 434.3 h-8 M1000.6 391.9 h8 M1745.4 391.9 h-8 M1000.6 349.5 h8 M1745.4 349.5 h-8 M1000.6 307.1 h8 M1745.4 307.1 h-8 M1000.6 264.7 h8 M1745.4 264.7 h-8 M1000.6 222.3 h8 M1745.4 222.3 h-8 M1000.6 179.9 h8 M1745.4 179.9 h-8 M1000.6 137.5 h8 M1745.4 137.5 h-8 M1000.6 95.1 h8 M1745.4 95.1 h-8 M1000.6 52.7 h8 M1745.4 52.7 h-8" stroke="#000" stroke-width="1.5" fill="none"/>
<g clip-path="url(#cp2)" shape-rendering="crispEdges">
<path d="M997.9 391.9 L999.9 392.7 L1001.9 393.7 L1003.9 395 L1005.9 396.4 L1007.9 397.9 L1009.9 399.5 L1011.9 401.4 L1013.9 403.6 L1015.9 406 L1017.9 408.7 L1019.9 411.7 L1021.9 415.5 L1023.9 419.6 L1025.9 423.6 L1027.9 427.4 L1029.9 431.1 L1031.9 434.8 L1033.9 438.4 L1035.9 441.9 L1037.9 445.2 L1039.9 448.6 L1041.9 451.9 L1043.9 455.2 L1045.9 458.4 L1047.9 461.7 L1049.9 465 L1051.9 468.5 L1053.9 472.3 L1055.9 476.3 L1057.9 480.3 L1059.9 483.9 L1061.9 487.4 L1063.9 490.8 L1065.9 494.2 L1067.9 497.4 L1069.9 500.6 L1071.9 503.6 L1073.9 506.6 L1075.9 509.6 L1077.9 512.5 L1079.9 515.3 L1081.9 518.1 L1083.9 520.8 L1085.9 523.4 L1087.9 525.9 L1089.9 528.3 L1091.9 530.7 L1093.9 533 L1095.9 535.4 L1097.9 537.6 L1099.9 539.8 L1101.9 541.8 L1103.9 543.7 L1105.9 545.5 L1107.9 547.1 L1109.9 548.6 L1111.9 550 L1113.9 551.4 L1115.9 552.6 L1117.9 553.9 L1119.9 555 L1121.9 556.2 L1123.9 557.3 L1125.9 558.3 L1127.9 559.4 L1129.9 560.4 L1131.9 561.5 L1133.9 562.6 L1135.9 563.7 L1137.9 564.8 L1139.9 565.9 L1141.9 566.9 L1143.9 568 L1145.9 569 L1147.9 569.9 L1149.9 570.7 L1151.9 571.4 L1153.9 572.1 L1155.9 572.7 L1157.9 573.2 L1159.9 573.8 L1161.9 574.3 L1163.9 574.8 L1165.9 575.2 L1167.9 575.7 L1169.9 576.1 L1171.9 576.4 L1173.9 576.8 L1175.9 577.1 L1177.9 577.3 L1179.9 577.6 L1181.9 577.8 L1183.9 578.1 L1185.9 578.3 L1187.9 578.5 L1189.9 578.7 L1191.9 578.9 L1193.9 579 L1195.9 579.2 L1197.9 579.4 L1199.9 579.5 L1201.9 579.7 L1203.9 579.8 L1205.9 580 L1207.9 580.1 L1209.9 580.3 L1211.9 580.4 L1213.9 580.5 L1215.9 580.7 L1217.9 580.8 L1219.9 580.9 L1221.9 581.1 L1223.9 581.2 L1225.9 581.4 L1227.9 581.5 L1229.9 581.7 L1231.9 581.8 L1233.9 581.9 L1235.9 582.1 L1237.9 582.2 L1239.9 582.3 L1241.9 582.4 L1243.9 582.6 L1245.9 582.7 L1247.9 582.8 L1249.9 582.9 L1251.9 583.1 L1253.9 583.2 L1255.9 583.3 L1257.9 583.4 L1259.9 583.6 L1261.9 583.7 L1263.9 583.8 L1265.9 583.9 L1267.9 584.1 L1269.9 584.2 L1271.9 584.3 L1273.9 584.5 L1275.9 584.6 L1277.9 584.7 L1279.9 584.9 L1281.9 585 L1283.9 585.1 L1285.9 585.3 L1287.9 585.4 L1289.9 585.5 L1291.9 585.7 L1293.9 585.8 L1295.9 585.9 L1297.9 586.1 L1299.9 586.2 L1301.9 586.3 L1303.9 586.5 L1305.9 586.6 L1307.9 586.7 L1309.9 586.9 L1311.9 587 L1313.9 587.1 L1315.9 587.2 L1317.9 587.4 L1319.9 587.5 L1321.9 587.6 L1323.9 587.7 L1325.9 587.9 L1327.9 588 L1329.9 588.1 L1331.9 588.2 L1333.9 588.4 L1335.9 588.5 L1337.9 588.6 L1339.9 588.7 L1341.9 588.8 L1343.9 589 L1345.9 589.1 L1347.9 589.2 L1349.9 589.3 L1351.9 589.4 L1353.9 589.5 L1355.9 589.6 L1357.9 589.8 L1359.9 589.9 L1361.9 590 L1363.9 590.1 L1365.9 590.2 L1367.9 590.3 L1369.9 590.4 L1371.9 590.5 L1373.9 590.5 L1375.9 590.6 L1377.9 590.7 L1379.9 590.8 L1381.9 590.9 L1383.9 591 L1385.9 591.1 L1387.9 591.2 L1389.9 591.3 L1391.9 591.4 L1393.9 591.5 L1395.9 591.6 L1397.9 591.7 L1399.9 591.8 L1401.9 591.9 L1403.9 592 L1405.9 592.1 L1407.9 592.2 L1409.9 592.4 L1411.9 592.5 L1413.9 592.6 L1415.9 592.8 L1417.9 592.9 L1419.9 593 L1421.9 593.2 L1423.9 593.3 L1425.9 593.5 L1427.9 593.6 L1429.9 593.7 L1431.9 593.9 L1433.9 594 L1435.9 594.2 L1437.9 594.3 L1439.9 594.4 L1441.9 594.6 L1443.9 594.7 L1445.9 594.8 L1447.9 594.9 L1449.9 595.1 L1451.9 595.2 L1453.9 595.3 L1455.9 595.4 L1457.9 595.5 L1459.9 595.6 L1461.9 595.7 L1463.9 595.8 L1465.9 596 L1467.9 596.1 L1469.9 596.2 L1471.9 596.3 L1473.9 596.4 L1475.9 596.5 L1477.9 596.6 L1479.9 596.7 L1481.9 596.8 L1483.9 596.9 L1485.9 597 L1487.9 597 L1489.9 597.1 L1491.9 597.2 L1493.9 597.3 L1495.9 597.4 L1497.9 597.5 L1499.9 597.5 L1501.9 597.6 L1503.9 597.7 L1505.9 597.8 L1507.9 597.8 L1509.9 597.9 L1511.9 598 L1513.9 598 L1515.9 598.1 L1517.9 598.2 L1519.9 598.2 L1521.9 598.3 L1523.9 598.4 L1525.9 598.4 L1527.9 598.5 L1529.9 598.5 L1531.9 598.6 L1533.9 598.7 L1535.9 598.7 L1537.9 598.8 L1539.9 598.8 L1541.9 598.9 L1543.9 598.9 L1545.9 599 L1547.9 599 L1549.9 599.1 L1551.9 599.1 L1553.9 599.2 L1555.9 599.2 L1557.9 599.3 L1559.9 599.3 L1561.9 599.3 L1563.9 599.4 L1565.9 599.4 L1567.9 599.5 L1569.9 599.5 L1571.9 599.6 L1573.9 599.6 L1575.9 599.6 L1577.9 599.7 L1579.9 599.7 L1581.9 599.8 L1583.9 599.8 L1585.9 599.8 L1587.9 599.9 L1589.9 599.9 L1591.9 599.9 L1593.9 600 L1595.9 600 L1597.9 600.1 L1599.9 600.1 L1601.9 600.1 L1603.9 600.2 L1605.9 600.2 L1607.9 600.2 L1609.9 600.3 L1611.9 600.3 L1613.9 600.3 L1615.9 600.4 L1617.9 600.4 L1619.9 600.4 L1621.9 600.5 L1623.9 600.5 L1625.9 600.5 L1627.9 600.6 L1629.9 600.6 L1631.9 600.6 L1633.9 600.7 L1635.9 600.7 L1637.9 600.7 L1639.9 600.8 L1641.9 600.8 L1643.9 600.8 L1645.9 600.9 L1647.9 600.9 L1649.9 600.9 L1651.9 601 L1653.9 601 L1655.9 601 L1657.9 601.1 L1659.9 601.1 L1661.9 601.1 L1663.9 601.1 L1665.9 601.2 L1667.9 601.2 L1669.9 601.2 L1671.9 601.3 L1673.9 601.3 L1675.9 601.3 L1677.9 601.4 L1679.9 601.4 L1681.9 601.4 L1683.9 601.4 L1685.9 601.5 L1687.9 601.5 L1689.9 601.5 L1691.9 601.5 L1693.9 601.6 L1695.9 601.6 L1697.9 601.6 L1699.9 601.7 L1701.9 601.7 L1703.9 601.7 L1705.9 601.7 L1707.9 601.8 L1709.9 601.8 L1711.9 601.8 L1713.9 601.8 L1715.9 601.9 L1717.9 601.9 L1719.9 601.9 L1721.9 601.9 L1723.9 601.9 L1725.9 602 L1727.9 602 L1729.9 602 L1731.9 602 L1733.9 602.1 L1735.9 602.1 L1737.9 602.1 L1739.9 602.1 L1741.9 602.1 L1743.9 602.2 L1745.9 602.2 L1747.9 602.2 L1748.7 602.2" fill="none" stroke="#ff0000" stroke-width="6" stroke-linejoin="round"/>
<ellipse cx="997.9" cy="391.9" rx="10.4" ry="10.4" fill="#ff0000"/>
<ellipse cx="1043" cy="453.7" rx="10.4" ry="10.4" fill="#ff0000"/>
<ellipse cx="1088.1" cy="526.1" rx="10.4" ry="10.4" fill="#ff0000"/>
<ellipse cx="1133.2" cy="562.2" rx="10.4" ry="10.4" fill="#ff0000"/>
<ellipse cx="1178.3" cy="577.4" rx="10.4" ry="10.4" fill="#ff0000"/>
<ellipse cx="1223.4" cy="581.2" rx="10.4" ry="10.4" fill="#ff0000"/>
<ellipse cx="1268.5" cy="584.1" rx="10.4" ry="10.4" fill="#ff0000"/>
<ellipse cx="1313.6" cy="587.1" rx="10.4" ry="10.4" fill="#ff0000"/>
<ellipse cx="1358.7" cy="589.8" rx="10.4" ry="10.4" fill="#ff0000"/>
<ellipse cx="1403.8" cy="592" rx="10.4" ry="10.4" fill="#ff0000"/>
<ellipse cx="1448.9" cy="595" rx="10.4" ry="10.4" fill="#ff0000"/>
<ellipse cx="1494" cy="597.3" rx="10.4" ry="10.4" fill="#ff0000"/>
<ellipse cx="1539.1" cy="598.8" rx="10.4" ry="10.4" fill="#ff0000"/>
<ellipse cx="1584.2" cy="599.8" rx="10.4" ry="10.4" fill="#ff0000"/>
<ellipse cx="1629.3" cy="600.6" rx="10.4" ry="10.4" fill="#ff0000"/>
<ellipse cx="1674.4" cy="601.3" rx="10.4" ry="10.4" fill="#ff0000"/>
<ellipse cx="1719.5" cy="601.9" rx="10.4" ry="10.4" fill="#ff0000"/>
<path d="M997.9 391.9 L999.9 383.7 L1001.9 375.4 L1003.9 367 L1005.9 358.7 L1007.9 350.5 L1009.9 344.2 L1011.9 339.9 L1013.9 336.4 L1015.9 333.2 L1017.9 330.1 L1019.9 327.2 L1021.9 324.8 L1023.9 322.9 L1025.9 321.2 L1027.9 319.7 L1029.9 318.6 L1031.9 318.3 L1033.9 318.4 L1035.9 318.6 L1037.9 319 L1039.9 319.8 L1041.9 320.9 L1043.9 322 L1045.9 323.1 L1047.9 324.3 L1049.9 325.6 L1051.9 327 L1053.9 328.4 L1055.9 329.9 L1057.9 331.5 L1059.9 333.2 L1061.9 335.1 L1063.9 337.3 L1065.9 339.5 L1067.9 341.8 L1069.9 344 L1071.9 346 L1073.9 347.9 L1075.9 349.8 L1077.9 351.7 L1079.9 353.5 L1081.9 355.4 L1083.9 357.3 L1085.9 359.2 L1087.9 361.3 L1089.9 363.4 L1091.9 365.6 L1093.9 367.9 L1095.9 370.2 L1097.9 372.6 L1099.9 375 L1101.9 377.5 L1103.9 380 L1105.9 382.5 L1107.9 385.1 L1109.9 387.6 L1111.9 390.2 L1113.9 392.8 L1115.9 395.4 L1117.9 398 L1119.9 400.5 L1121.9 403.1 L1123.9 405.6 L1125.9 408.1 L1127.9 410.6 L1129.9 413 L1131.9 415.4 L1133.9 417.7 L1135.9 420.1 L1137.9 422.4 L1139.9 424.7 L1141.9 427.1 L1143.9 429.4 L1145.9 431.8 L1147.9 434.1 L1149.9 436.5 L1151.9 438.8 L1153.9 441.1 L1155.9 443.4 L1157.9 445.6 L1159.9 447.9 L1161.9 450.1 L1163.9 452.2 L1165.9 454.4 L1167.9 456.5 L1169.9 458.6 L1171.9 460.6 L1173.9 462.6 L1175.9 464.5 L1177.9 466.4 L1179.9 468.3 L1181.9 470.1 L1183.9 471.9 L1185.9 473.7 L1187.9 475.4 L1189.9 477.1 L1191.9 478.8 L1193.9 480.5 L1195.9 482.2 L1197.9 483.8 L1199.9 485.4 L1201.9 487 L1203.9 488.6 L1205.9 490.1 L1207.9 491.6 L1209.9 493.1 L1211.9 494.6 L1213.9 496.1 L1215.9 497.5 L1217.9 499 L1219.9 500.4 L1221.9 501.8 L1223.9 503.1 L1225.9 504.5 L1227.9 505.8 L1229.9 507.2 L1231.9 508.5 L1233.9 509.8 L1235.9 511.1 L1237.9 512.4 L1239.9 513.6 L1241.9 514.8 L1243.9 516.1 L1245.9 517.3 L1247.9 518.5 L1249.9 519.7 L1251.9 520.8 L1253.9 522 L1255.9 523.1 L1257.9 524.2 L1259.9 525.3 L1261.9 526.4 L1263.9 527.5 L1265.9 528.5 L1267.9 529.6 L1269.9 530.6 L1271.9 531.6 L1273.9 532.7 L1275.9 533.7 L1277.9 534.6 L1279.9 535.6 L1281.9 536.6 L1283.9 537.6 L1285.9 538.5 L1287.9 539.5 L1289.9 540.4 L1291.9 541.3 L1293.9 542.2 L1295.9 543.1 L1297.9 544 L1299.9 544.8 L1301.9 545.6 L1303.9 546.5 L1305.9 547.3 L1307.9 548.1 L1309.9 548.8 L1311.9 549.6 L1313.9 550.3 L1315.9 551 L1317.9 551.7 L1319.9 552.4 L1321.9 553.1 L1323.9 553.7 L1325.9 554.4 L1327.9 555 L1329.9 555.6 L1331.9 556.2 L1333.9 556.8 L1335.9 557.4 L1337.9 558 L1339.9 558.6 L1341.9 559.2 L1343.9 559.7 L1345.9 560.3 L1347.9 560.8 L1349.9 561.4 L1351.9 561.9 L1353.9 562.5 L1355.9 563 L1357.9 563.6 L1359.9 564.1 L1361.9 564.7 L1363.9 565.2 L1365.9 565.8 L1367.9 566.3 L1369.9 566.8 L1371.9 567.4 L1373.9 567.9 L1375.9 568.4 L1377.9 568.9 L1379.9 569.4 L1381.9 570 L1383.9 570.5 L1385.9 571 L1387.9 571.4 L1389.9 571.9 L1391.9 572.4 L1393.9 572.9 L1395.9 573.3 L1397.9 573.8 L1399.9 574.3 L1401.9 574.7 L1403.9 575.1 L1405.9 575.5 L1407.9 576 L1409.9 576.4 L1411.9 576.8 L1413.9 577.2 L1415.9 577.6 L1417.9 578 L1419.9 578.3 L1421.9 578.7 L1423.9 579.1 L1425.9 579.5 L1427.9 579.8 L1429.9 580.2 L1431.9 580.6 L1433.9 580.9 L1435.9 581.3 L1437.9 581.6 L1439.9 582 L1441.9 582.3 L1443.9 582.6 L1445.9 583 L1447.9 583.3 L1449.9 583.7 L1451.9 584 L1453.9 584.3 L1455.9 584.7 L1457.9 585 L1459.9 585.3 L1461.9 585.7 L1463.9 586 L1465.9 586.3 L1467.9 586.7 L1469.9 587 L1471.9 587.3 L1473.9 587.6 L1475.9 587.9 L1477.9 588.2 L1479.9 588.5 L1481.9 588.8 L1483.9 589.1 L1485.9 589.4 L1487.9 589.7 L1489.9 590 L1491.9 590.2 L1493.9 590.5 L1495.9 590.7 L1497.9 591 L1499.9 591.3 L1501.9 591.5 L1503.9 591.8 L1505.9 592 L1507.9 592.3 L1509.9 592.5 L1511.9 592.7 L1513.9 593 L1515.9 593.2 L1517.9 593.4 L1519.9 593.7 L1521.9 593.9 L1523.9 594.1 L1525.9 594.3 L1527.9 594.5 L1529.9 594.7 L1531.9 594.9 L1533.9 595.1 L1535.9 595.2 L1537.9 595.4 L1539.9 595.6 L1541.9 595.7 L1543.9 595.9 L1545.9 596 L1547.9 596.2 L1549.9 596.3 L1551.9 596.4 L1553.9 596.6 L1555.9 596.7 L1557.9 596.8 L1559.9 597 L1561.9 597.1 L1563.9 597.2 L1565.9 597.3 L1567.9 597.4 L1569.9 597.5 L1571.9 597.7 L1573.9 597.8 L1575.9 597.9 L1577.9 598 L1579.9 598.1 L1581.9 598.2 L1583.9 598.3 L1585.9 598.4 L1587.9 598.5 L1589.9 598.6 L1591.9 598.7 L1593.9 598.8 L1595.9 598.9 L1597.9 599 L1599.9 599 L1601.9 599.1 L1603.9 599.2 L1605.9 599.3 L1607.9 599.4 L1609.9 599.5 L1611.9 599.6 L1613.9 599.6 L1615.9 599.7 L1617.9 599.8 L1619.9 599.9 L1621.9 599.9 L1623.9 600 L1625.9 600.1 L1627.9 600.2 L1629.9 600.2 L1631.9 600.3 L1633.9 600.4 L1635.9 600.4 L1637.9 600.5 L1639.9 600.6 L1641.9 600.6 L1643.9 600.7 L1645.9 600.7 L1647.9 600.8 L1649.9 600.9 L1651.9 600.9 L1653.9 601 L1655.9 601 L1657.9 601.1 L1659.9 601.1 L1661.9 601.2 L1663.9 601.2 L1665.9 601.3 L1667.9 601.3 L1669.9 601.4 L1671.9 601.4 L1673.9 601.5 L1675.9 601.5 L1677.9 601.6 L1679.9 601.6 L1681.9 601.7 L1683.9 601.7 L1685.9 601.7 L1687.9 601.8 L1689.9 601.8 L1691.9 601.9 L1693.9 601.9 L1695.9 601.9 L1697.9 602 L1699.9 602 L1701.9 602 L1703.9 602.1 L1705.9 602.1 L1707.9 602.1 L1709.9 602.2 L1711.9 602.2 L1713.9 602.2 L1715.9 602.3 L1717.9 602.3 L1719.9 602.3 L1721.9 602.3 L1723.9 602.4 L1725.9 602.4 L1727.9 602.4 L1729.9 602.4 L1731.9 602.4 L1733.9 602.5 L1735.9 602.5 L1737.9 602.5 L1739.9 602.5 L1741.9 602.5 L1743.9 602.6 L1745.9 602.6 L1747.9 602.6 L1748.7 602.6" fill="none" stroke="#000080" stroke-width="6" stroke-linejoin="round"/>
<polygon points="997.9,381.3 1008.3,402.1 987.5,402.1" fill="#000080"/>
<polygon points="1043,310.9 1053.4,331.7 1032.6,331.7" fill="#000080"/>
<polygon points="1088.1,350.9 1098.5,371.7 1077.7,371.7" fill="#000080"/>
<polygon points="1133.2,406.3 1143.6,427.1 1122.8,427.1" fill="#000080"/>
<polygon points="1178.3,456.2 1188.7,477 1167.9,477" fill="#000080"/>
<polygon points="1223.4,492.2 1233.8,513 1213,513" fill="#000080"/>
<polygon points="1268.5,519.3 1278.9,540.1 1258.1,540.1" fill="#000080"/>
<polygon points="1313.6,539.6 1324,560.4 1303.2,560.4" fill="#000080"/>
<polygon points="1358.7,553.2 1369.1,574 1348.3,574" fill="#000080"/>
<polygon points="1403.8,564.5 1414.2,585.3 1393.4,585.3" fill="#000080"/>
<polygon points="1448.9,572.9 1459.3,593.7 1438.5,593.7" fill="#000080"/>
<polygon points="1494,579.9 1504.4,600.7 1483.6,600.7" fill="#000080"/>
<polygon points="1539.1,584.9 1549.5,605.7 1528.7,605.7" fill="#000080"/>
<polygon points="1584.2,587.7 1594.6,608.5 1573.8,608.5" fill="#000080"/>
<polygon points="1629.3,589.6 1639.7,610.4 1618.9,610.4" fill="#000080"/>
<polygon points="1674.4,590.9 1684.8,611.7 1664,611.7" fill="#000080"/>
<polygon points="1719.5,591.7 1729.9,612.5 1709.1,612.5" fill="#000080"/>
<path d="M997.9 391.9 L999.9 376.7 L1001.9 361.1 L1003.9 345 L1005.9 328.2 L1007.9 314.4 L1009.9 304 L1011.9 298.4 L1013.9 292.8 L1015.9 284.6 L1017.9 275.1 L1019.9 266 L1021.9 259 L1023.9 253.5 L1025.9 248.6 L1027.9 244.2 L1029.9 240.4 L1031.9 237.2 L1033.9 234.4 L1035.9 232 L1037.9 229.8 L1039.9 227.8 L1041.9 225.9 L1043.9 224 L1045.9 222.1 L1047.9 220.2 L1049.9 218.6 L1051.9 217.5 L1053.9 216.9 L1055.9 216.3 L1057.9 216 L1059.9 215.8 L1061.9 215.9 L1063.9 216.2 L1065.9 216.7 L1067.9 217.2 L1069.9 217.8 L1071.9 218.5 L1073.9 219.4 L1075.9 220.5 L1077.9 221.8 L1079.9 223.2 L1081.9 224.7 L1083.9 226.2 L1085.9 227.9 L1087.9 229.6 L1089.9 231.5 L1091.9 233.8 L1093.9 236.3 L1095.9 239 L1097.9 241.9 L1099.9 245 L1101.9 248.1 L1103.9 251.2 L1105.9 254.3 L1107.9 257.2 L1109.9 260 L1111.9 262.7 L1113.9 265.4 L1115.9 268 L1117.9 270.7 L1119.9 273.3 L1121.9 275.9 L1123.9 278.5 L1125.9 281.2 L1127.9 283.8 L1129.9 286.5 L1131.9 289.2 L1133.9 292 L1135.9 294.8 L1137.9 297.6 L1139.9 300.4 L1141.9 303.3 L1143.9 306.2 L1145.9 309.1 L1147.9 312.1 L1149.9 315 L1151.9 318 L1153.9 320.9 L1155.9 323.9 L1157.9 326.9 L1159.9 329.8 L1161.9 332.8 L1163.9 335.7 L1165.9 338.7 L1167.9 341.6 L1169.9 344.5 L1171.9 347.3 L1173.9 350.2 L1175.9 353 L1177.9 355.8 L1179.9 358.5 L1181.9 361.2 L1183.9 364 L1185.9 366.7 L1187.9 369.4 L1189.9 372.2 L1191.9 374.9 L1193.9 377.6 L1195.9 380.3 L1197.9 382.9 L1199.9 385.6 L1201.9 388.2 L1203.9 390.9 L1205.9 393.5 L1207.9 396 L1209.9 398.6 L1211.9 401.1 L1213.9 403.6 L1215.9 406.1 L1217.9 408.5 L1219.9 411 L1221.9 413.3 L1223.9 415.7 L1225.9 418 L1227.9 420.3 L1229.9 422.6 L1231.9 424.9 L1233.9 427.2 L1235.9 429.5 L1237.9 431.7 L1239.9 433.9 L1241.9 436.1 L1243.9 438.3 L1245.9 440.5 L1247.9 442.6 L1249.9 444.7 L1251.9 446.8 L1253.9 448.9 L1255.9 450.9 L1257.9 452.9 L1259.9 454.8 L1261.9 456.7 L1263.9 458.6 L1265.9 460.5 L1267.9 462.3 L1269.9 464 L1271.9 465.8 L1273.9 467.5 L1275.9 469.1 L1277.9 470.8 L1279.9 472.4 L1281.9 474 L1283.9 475.6 L1285.9 477.1 L1287.9 478.7 L1289.9 480.2 L1291.9 481.7 L1293.9 483.2 L1295.9 484.6 L1297.9 486.1 L1299.9 487.5 L1301.9 488.9 L1303.9 490.4 L1305.9 491.8 L1307.9 493.2 L1309.9 494.5 L1311.9 495.9 L1313.9 497.3 L1315.9 498.7 L1317.9 500 L1319.9 501.4 L1321.9 502.7 L1323.9 504.1 L1325.9 505.4 L1327.9 506.7 L1329.9 508.1 L1331.9 509.4 L1333.9 510.6 L1335.9 511.9 L1337.9 513.2 L1339.9 514.4 L1341.9 515.7 L1343.9 516.9 L1345.9 518.1 L1347.9 519.3 L1349.9 520.5 L1351.9 521.6 L1353.9 522.7 L1355.9 523.9 L1357.9 525 L1359.9 526 L1361.9 527.1 L1363.9 528.2 L1365.9 529.3 L1367.9 530.3 L1369.9 531.4 L1371.9 532.4 L1373.9 533.4 L1375.9 534.4 L1377.9 535.4 L1379.9 536.4 L1381.9 537.4 L1383.9 538.3 L1385.9 539.3 L1387.9 540.2 L1389.9 541.1 L1391.9 542 L1393.9 542.9 L1395.9 543.7 L1397.9 544.5 L1399.9 545.3 L1401.9 546.1 L1403.9 546.8 L1405.9 547.6 L1407.9 548.3 L1409.9 549 L1411.9 549.6 L1413.9 550.3 L1415.9 551 L1417.9 551.6 L1419.9 552.2 L1421.9 552.8 L1423.9 553.4 L1425.9 554 L1427.9 554.6 L1429.9 555.2 L1431.9 555.7 L1433.9 556.3 L1435.9 556.8 L1437.9 557.4 L1439.9 557.9 L1441.9 558.5 L1443.9 559 L1445.9 559.6 L1447.9 560.1 L1449.9 560.7 L1451.9 561.2 L1453.9 561.8 L1455.9 562.3 L1457.9 562.8 L1459.9 563.4 L1461.9 563.9 L1463.9 564.4 L1465.9 564.9 L1467.9 565.4 L1469.9 565.9 L1471.9 566.4 L1473.9 566.9 L1475.9 567.4 L1477.9 567.9 L1479.9 568.4 L1481.9 568.9 L1483.9 569.4 L1485.9 569.8 L1487.9 570.3 L1489.9 570.8 L1491.9 571.2 L1493.9 571.7 L1495.9 572.1 L1497.9 572.6 L1499.9 573 L1501.9 573.5 L1503.9 573.9 L1505.9 574.4 L1507.9 574.8 L1509.9 575.3 L1511.9 575.7 L1513.9 576.1 L1515.9 576.6 L1517.9 577 L1519.9 577.4 L1521.9 577.8 L1523.9 578.2 L1525.9 578.6 L1527.9 579 L1529.9 579.4 L1531.9 579.8 L1533.9 580.1 L1535.9 580.5 L1537.9 580.8 L1539.9 581.1 L1541.9 581.4 L1543.9 581.8 L1545.9 582.1 L1547.9 582.4 L1549.9 582.7 L1551.9 583 L1553.9 583.2 L1555.9 583.5 L1557.9 583.8 L1559.9 584.1 L1561.9 584.3 L1563.9 584.6 L1565.9 584.9 L1567.9 585.1 L1569.9 585.4 L1571.9 585.6 L1573.9 585.8 L1575.9 586.1 L1577.9 586.3 L1579.9 586.5 L1581.9 586.8 L1583.9 587 L1585.9 587.2 L1587.9 587.4 L1589.9 587.6 L1591.9 587.8 L1593.9 588 L1595.9 588.2 L1597.9 588.4 L1599.9 588.5 L1601.9 588.7 L1603.9 588.9 L1605.9 589.1 L1607.9 589.2 L1609.9 589.4 L1611.9 589.6 L1613.9 589.8 L1615.9 589.9 L1617.9 590.1 L1619.9 590.2 L1621.9 590.4 L1623.9 590.6 L1625.9 590.7 L1627.9 590.9 L1629.9 591 L1631.9 591.2 L1633.9 591.4 L1635.9 591.5 L1637.9 591.7 L1639.9 591.9 L1641.9 592 L1643.9 592.2 L1645.9 592.3 L1647.9 592.5 L1649.9 592.7 L1651.9 592.8 L1653.9 593 L1655.9 593.1 L1657.9 593.3 L1659.9 593.4 L1661.9 593.5 L1663.9 593.7 L1665.9 593.8 L1667.9 593.9 L1669.9 594.1 L1671.9 594.2 L1673.9 594.3 L1675.9 594.4 L1677.9 594.5 L1679.9 594.6 L1681.9 594.7 L1683.9 594.8 L1685.9 594.8 L1687.9 594.9 L1689.9 595 L1691.9 595.1 L1693.9 595.2 L1695.9 595.2 L1697.9 595.3 L1699.9 595.4 L1701.9 595.5 L1703.9 595.5 L1705.9 595.6 L1707.9 595.7 L1709.9 595.7 L1711.9 595.8 L1713.9 595.9 L1715.9 596 L1717.9 596 L1719.9 596.1 L1721.9 596.2 L1723.9 596.3 L1725.9 596.3 L1727.9 596.4 L1729.9 596.5 L1731.9 596.6 L1733.9 596.6 L1735.9 596.7 L1737.9 596.8 L1739.9 596.9 L1741.9 596.9 L1743.9 597 L1745.9 597.1 L1747.9 597.2 L1748.7 597.2" fill="none" stroke="#00ff00" stroke-width="6" stroke-linejoin="round"/>
<rect x="987.4" y="381.4" width="20.9" height="20.9" fill="#00ff00"/>
<rect x="1032.5" y="214.5" width="20.9" height="20.9" fill="#00ff00"/>
<rect x="1077.6" y="219.4" width="20.9" height="20.9" fill="#00ff00"/>
<rect x="1122.8" y="280.6" width="20.9" height="20.9" fill="#00ff00"/>
<rect x="1167.8" y="345.9" width="20.9" height="20.9" fill="#00ff00"/>
<rect x="1213" y="404.7" width="20.9" height="20.9" fill="#00ff00"/>
<rect x="1258" y="452.4" width="20.9" height="20.9" fill="#00ff00"/>
<rect x="1303.1" y="486.7" width="20.9" height="20.9" fill="#00ff00"/>
<rect x="1348.2" y="514.9" width="20.9" height="20.9" fill="#00ff00"/>
<rect x="1393.3" y="536.3" width="20.9" height="20.9" fill="#00ff00"/>
<rect x="1438.5" y="549.9" width="20.9" height="20.9" fill="#00ff00"/>
<rect x="1483.5" y="561.2" width="20.9" height="20.9" fill="#00ff00"/>
<rect x="1528.6" y="570.5" width="20.9" height="20.9" fill="#00ff00"/>
<rect x="1573.8" y="576.5" width="20.9" height="20.9" fill="#00ff00"/>
<rect x="1618.8" y="580.5" width="20.9" height="20.9" fill="#00ff00"/>
<rect x="1664" y="583.8" width="20.9" height="20.9" fill="#00ff00"/>
<rect x="1709" y="585.6" width="20.9" height="20.9" fill="#00ff00"/>
<path d="M997.9 391.9 L999.9 367.8 L1001.9 344.1 L1003.9 321 L1005.9 298.3 L1007.9 275.6 L1009.9 252.9 L1011.9 232.3 L1013.9 215.2 L1015.9 200.1 L1017.9 186.2 L1019.9 173.3 L1021.9 160.7 L1023.9 148.2 L1025.9 136.1 L1027.9 124.8 L1029.9 114.4 L1031.9 105.3 L1033.9 96.9 L1035.9 89.1 L1037.9 81.6 L1039.9 74.4 L1041.9 67.7 L1043.9 61.9 L1045.9 56.5 L1047.9 51.7 L1049.9 47.7 L1051.9 44.3 L1053.9 41.2 L1055.9 38.7 L1057.9 37.1 L1059.9 36.1 L1061.9 35.3 L1063.9 34.7 L1065.9 34.4 L1067.9 34.4 L1069.9 34.7 L1071.9 35.1 L1073.9 35.7 L1075.9 36.4 L1077.9 37.6 L1079.9 39.1 L1081.9 40.8 L1083.9 42.7 L1085.9 44.8 L1087.9 47.2 L1089.9 50 L1091.9 53.2 L1093.9 56.8 L1095.9 60.6 L1097.9 64.7 L1099.9 69 L1101.9 73.3 L1103.9 77.7 L1105.9 82.1 L1107.9 86.4 L1109.9 90.6 L1111.9 94.7 L1113.9 98.9 L1115.9 103.1 L1117.9 107.3 L1119.9 111.5 L1121.9 115.8 L1123.9 120.1 L1125.9 124.5 L1127.9 128.8 L1129.9 133.3 L1131.9 137.7 L1133.9 142.2 L1135.9 146.7 L1137.9 151.3 L1139.9 156 L1141.9 160.8 L1143.9 165.5 L1145.9 170.4 L1147.9 175.2 L1149.9 180.1 L1151.9 185 L1153.9 189.9 L1155.9 194.8 L1157.9 199.7 L1159.9 204.6 L1161.9 209.5 L1163.9 214.3 L1165.9 219.1 L1167.9 223.9 L1169.9 228.6 L1171.9 233.2 L1173.9 237.8 L1175.9 242.2 L1177.9 246.6 L1179.9 251 L1181.9 255.3 L1183.9 259.6 L1185.9 263.8 L1187.9 268.1 L1189.9 272.3 L1191.9 276.5 L1193.9 280.7 L1195.9 284.8 L1197.9 288.9 L1199.9 293 L1201.9 297 L1203.9 301 L1205.9 305 L1207.9 308.9 L1209.9 312.7 L1211.9 316.5 L1213.9 320.3 L1215.9 324 L1217.9 327.7 L1219.9 331.3 L1221.9 334.8 L1223.9 338.3 L1225.9 341.7 L1227.9 345.1 L1229.9 348.5 L1231.9 351.8 L1233.9 355.1 L1235.9 358.3 L1237.9 361.6 L1239.9 364.7 L1241.9 367.9 L1243.9 371 L1245.9 374.1 L1247.9 377.1 L1249.9 380.1 L1251.9 383.1 L1253.9 386 L1255.9 388.9 L1257.9 391.8 L1259.9 394.6 L1261.9 397.4 L1263.9 400.1 L1265.9 402.8 L1267.9 405.5 L1269.9 408.1 L1271.9 410.8 L1273.9 413.3 L1275.9 415.9 L1277.9 418.4 L1279.9 420.9 L1281.9 423.4 L1283.9 425.9 L1285.9 428.3 L1287.9 430.7 L1289.9 433.1 L1291.9 435.4 L1293.9 437.7 L1295.9 440 L1297.9 442.3 L1299.9 444.5 L1301.9 446.6 L1303.9 448.8 L1305.9 450.9 L1307.9 453 L1309.9 455 L1311.9 457 L1313.9 459 L1315.9 460.9 L1317.9 462.9 L1319.9 464.7 L1321.9 466.6 L1323.9 468.5 L1325.9 470.3 L1327.9 472.1 L1329.9 473.9 L1331.9 475.7 L1333.9 477.4 L1335.9 479.1 L1337.9 480.8 L1339.9 482.4 L1341.9 484.1 L1343.9 485.7 L1345.9 487.3 L1347.9 488.8 L1349.9 490.3 L1351.9 491.8 L1353.9 493.3 L1355.9 494.7 L1357.9 496.1 L1359.9 497.5 L1361.9 498.9 L1363.9 500.2 L1365.9 501.5 L1367.9 502.8 L1369.9 504.1 L1371.9 505.3 L1373.9 506.5 L1375.9 507.7 L1377.9 508.9 L1379.9 510.1 L1381.9 511.3 L1383.9 512.4 L1385.9 513.5 L1387.9 514.6 L1389.9 515.7 L1391.9 516.8 L1393.9 517.9 L1395.9 519 L1397.9 520 L1399.9 521.1 L1401.9 522.1 L1403.9 523.2 L1405.9 524.2 L1407.9 525.2 L1409.9 526.2 L1411.9 527.2 L1413.9 528.2 L1415.9 529.2 L1417.9 530.2 L1419.9 531.1 L1421.9 532.1 L1423.9 533 L1425.9 534 L1427.9 534.9 L1429.9 535.8 L1431.9 536.7 L1433.9 537.6 L1435.9 538.5 L1437.9 539.4 L1439.9 540.2 L1441.9 541.1 L1443.9 541.9 L1445.9 542.7 L1447.9 543.5 L1449.9 544.3 L1451.9 545.1 L1453.9 545.8 L1455.9 546.6 L1457.9 547.3 L1459.9 548.1 L1461.9 548.8 L1463.9 549.5 L1465.9 550.3 L1467.9 551 L1469.9 551.7 L1471.9 552.3 L1473.9 553 L1475.9 553.7 L1477.9 554.3 L1479.9 555 L1481.9 555.6 L1483.9 556.3 L1485.9 556.9 L1487.9 557.5 L1489.9 558.1 L1491.9 558.7 L1493.9 559.3 L1495.9 559.8 L1497.9 560.4 L1499.9 561 L1501.9 561.5 L1503.9 562.1 L1505.9 562.6 L1507.9 563.1 L1509.9 563.6 L1511.9 564.2 L1513.9 564.7 L1515.9 565.2 L1517.9 565.7 L1519.9 566.1 L1521.9 566.6 L1523.9 567.1 L1525.9 567.6 L1527.9 568.1 L1529.9 568.5 L1531.9 569 L1533.9 569.4 L1535.9 569.9 L1537.9 570.3 L1539.9 570.8 L1541.9 571.2 L1543.9 571.7 L1545.9 572.1 L1547.9 572.5 L1549.9 573 L1551.9 573.4 L1553.9 573.8 L1555.9 574.2 L1557.9 574.6 L1559.9 575 L1561.9 575.4 L1563.9 575.8 L1565.9 576.2 L1567.9 576.6 L1569.9 577 L1571.9 577.4 L1573.9 577.8 L1575.9 578.1 L1577.9 578.5 L1579.9 578.8 L1581.9 579.2 L1583.9 579.5 L1585.9 579.9 L1587.9 580.2 L1589.9 580.6 L1591.9 580.9 L1593.9 581.3 L1595.9 581.6 L1597.9 582 L1599.9 582.3 L1601.9 582.6 L1603.9 582.9 L1605.9 583.3 L1607.9 583.6 L1609.9 583.9 L1611.9 584.2 L1613.9 584.5 L1615.9 584.8 L1617.9 585 L1619.9 585.3 L1621.9 585.6 L1623.9 585.8 L1625.9 586 L1627.9 586.3 L1629.9 586.5 L1631.9 586.7 L1633.9 586.8 L1635.9 587 L1637.9 587.2 L1639.9 587.4 L1641.9 587.5 L1643.9 587.7 L1645.9 587.9 L1647.9 588 L1649.9 588.1 L1651.9 588.3 L1653.9 588.4 L1655.9 588.6 L1657.9 588.7 L1659.9 588.8 L1661.9 589 L1663.9 589.1 L1665.9 589.2 L1667.9 589.4 L1669.9 589.5 L1671.9 589.6 L1673.9 589.8 L1675.9 589.9 L1677.9 590 L1679.9 590.2 L1681.9 590.3 L1683.9 590.4 L1685.9 590.5 L1687.9 590.6 L1689.9 590.8 L1691.9 590.9 L1693.9 591 L1695.9 591.1 L1697.9 591.2 L1699.9 591.3 L1701.9 591.4 L1703.9 591.6 L1705.9 591.7 L1707.9 591.8 L1709.9 591.9 L1711.9 592 L1713.9 592.2 L1715.9 592.3 L1717.9 592.4 L1719.9 592.5 L1721.9 592.7 L1723.9 592.8 L1725.9 592.9 L1727.9 593.1 L1729.9 593.2 L1731.9 593.3 L1733.9 593.5 L1735.9 593.6 L1737.9 593.7 L1739.9 593.9 L1741.9 594 L1743.9 594.2 L1745.9 594.3 L1747.9 594.4 L1748.7 594.5" fill="none" stroke="#00ffff" stroke-width="6" stroke-linejoin="round"/>
<polygon points="997.9,382.9 1006.6,391.9 997.9,400.9 989.2,391.9" fill="#00ffff"/>
<polygon points="1043,55.4 1051.7,64.4 1043,73.4 1034.3,64.4" fill="#00ffff"/>
<polygon points="1088.1,38.5 1096.8,47.5 1088.1,56.5 1079.4,47.5" fill="#00ffff"/>
<polygon points="1133.2,131.6 1141.9,140.6 1133.2,149.6 1124.5,140.6" fill="#00ffff"/>
<polygon points="1178.3,238.5 1187,247.5 1178.3,256.5 1169.6,247.5" fill="#00ffff"/>
<polygon points="1223.4,328.4 1232.1,337.4 1223.4,346.4 1214.7,337.4" fill="#00ffff"/>
<polygon points="1268.5,397.3 1277.2,406.3 1268.5,415.3 1259.8,406.3" fill="#00ffff"/>
<polygon points="1313.6,449.7 1322.3,458.7 1313.6,467.7 1304.9,458.7" fill="#00ffff"/>
<polygon points="1358.7,487.7 1367.4,496.7 1358.7,505.7 1350,496.7" fill="#00ffff"/>
<polygon points="1403.8,514.1 1412.5,523.1 1403.8,532.1 1395.1,523.1" fill="#00ffff"/>
<polygon points="1448.9,534.9 1457.6,543.9 1448.9,552.9 1440.2,543.9" fill="#00ffff"/>
<polygon points="1494,550.3 1502.7,559.3 1494,568.3 1485.3,559.3" fill="#00ffff"/>
<polygon points="1539.1,561.6 1547.8,570.6 1539.1,579.6 1530.4,570.6" fill="#00ffff"/>
<polygon points="1584.2,570.6 1592.9,579.6 1584.2,588.6 1575.5,579.6" fill="#00ffff"/>
<polygon points="1629.3,577.4 1638,586.4 1629.3,595.4 1620.6,586.4" fill="#00ffff"/>
<polygon points="1674.4,580.8 1683.1,589.8 1674.4,598.8 1665.7,589.8" fill="#00ffff"/>
<polygon points="1719.5,583.5 1728.2,592.5 1719.5,601.5 1710.8,592.5" fill="#00ffff"/>
</g>
<rect x="997.8" y="7.8" width="750.4" height="594.3" fill="none" stroke="#000" stroke-width="5.6"/>
<rect x="1583.2" y="24.4" width="151.5" height="156.1" fill="#fff" stroke="#000" stroke-width="5.5"/>
<path d="M1585.8 42 H1631.6 l5 3 l-5 3 H1585.8 Z" fill="#ff0000"/>
<ellipse cx="1596.2" cy="45" rx="8.9" ry="10.4" fill="#ff0000"/>
<ellipse cx="1622.8" cy="45" rx="8.9" ry="10.4" fill="#ff0000"/>
<text font-size="30"><tspan x="1642.7" y="54" textLength="20.91" lengthAdjust="spacingAndGlyphs">α</tspan><tspan x="1662.5" y="54" textLength="19.29" lengthAdjust="spacingAndGlyphs">=</tspan><tspan x="1680.8" y="54">0.1</tspan></text>
<path d="M1585.8 80.8 H1631.6 l5 3 l-5 3 H1585.8 Z" fill="#000080"/>
<polygon points="1596.2,74.2 1606.3,95 1586.1,95" fill="#000080"/>
<polygon points="1622.8,74.2 1632.9,95 1612.7,95" fill="#000080"/>
<text font-size="30"><tspan x="1642.7" y="92.3" textLength="20.91" lengthAdjust="spacingAndGlyphs">α</tspan><tspan x="1662.5" y="92.3" textLength="19.29" lengthAdjust="spacingAndGlyphs">=</tspan><tspan x="1680.8" y="92.3">0.4</tspan></text>
<path d="M1585.8 118.4 H1631.6 l5 3 l-5 3 H1585.8 Z" fill="#00ff00"/>
<rect x="1586.1" y="111" width="20.3" height="20.9" fill="#00ff00"/>
<rect x="1612.7" y="111" width="20.3" height="20.9" fill="#00ff00"/>
<text font-size="30"><tspan x="1642.7" y="129.8" textLength="20.91" lengthAdjust="spacingAndGlyphs">α</tspan><tspan x="1662.5" y="129.8" textLength="19.29" lengthAdjust="spacingAndGlyphs">=</tspan><tspan x="1680.8" y="129.8">0.7</tspan></text>
<path d="M1585.8 156.6 H1631.6 l5 3 l-5 3 H1585.8 Z" fill="#00ffff"/>
<polygon points="1594.2,150.9 1601.6,159.6 1594.2,168.3 1586.8,159.6" fill="#00ffff"/>
<polygon points="1624.8,150.9 1632.2,159.6 1624.8,168.3 1617.4,159.6" fill="#00ffff"/>
<text font-size="30"><tspan x="1642.7" y="168.3" textLength="20.91" lengthAdjust="spacingAndGlyphs">α</tspan><tspan x="1662.5" y="168.3" textLength="19.29" lengthAdjust="spacingAndGlyphs">=</tspan><tspan x="1680.8" y="168.3">1.0</tspan></text>
<text transform="translate(993.6 613.9) scale(0.9 1)" font-size="25" text-anchor="end">0</text>
<text transform="translate(993.6 571.5) scale(0.9 1)" font-size="25" text-anchor="end">0.2</text>
<text transform="translate(993.6 529.1) scale(0.9 1)" font-size="25" text-anchor="end">0.4</text>
<text transform="translate(993.6 486.7) scale(0.9 1)" font-size="25" text-anchor="end">0.6</text>
<text transform="translate(993.6 444.3) scale(0.9 1)" font-size="25" text-anchor="end">0.8</text>
<text transform="translate(993.6 401.9) scale(0.9 1)" font-size="25" text-anchor="end">1</text>
<text transform="translate(993.6 359.5) scale(0.9 1)" font-size="25" text-anchor="end">1.2</text>
<text transform="translate(993.6 317.1) scale(0.9 1)" font-size="25" text-anchor="end">1.4</text>
<text transform="translate(993.6 274.7) scale(0.9 1)" font-size="25" text-anchor="end">1.6</text>
<text transform="translate(993.6 232.3) scale(0.9 1)" font-size="25" text-anchor="end">1.8</text>
<text transform="translate(993.6 189.9) scale(0.9 1)" font-size="25" text-anchor="end">2</text>
<text transform="translate(993.6 147.5) scale(0.9 1)" font-size="25" text-anchor="end">2.2</text>
<text transform="translate(993.6 105.1) scale(0.9 1)" font-size="25" text-anchor="end">2.4</text>
<text transform="translate(993.6 62.7) scale(0.9 1)" font-size="25" text-anchor="end">2.6</text>
<text transform="translate(993.6 20.3) scale(0.9 1)" font-size="25" text-anchor="end">2.8</text>
<text transform="translate(1002.3 632) scale(0.9 1)" font-size="25" text-anchor="middle">0</text>
<text transform="translate(1150.5 632) scale(0.9 1)" font-size="25" text-anchor="middle">0.5</text>
<text transform="translate(1301.4 632) scale(0.9 1)" font-size="25" text-anchor="middle">1</text>
<text transform="translate(1452.5 632) scale(0.9 1)" font-size="25" text-anchor="middle">1.5</text>
<text transform="translate(1602.8 632) scale(0.9 1)" font-size="25" text-anchor="middle">2</text>
<text transform="translate(1752.3 632) scale(0.9 1)" font-size="25" text-anchor="middle">2.5</text>
<text x="1364.8" y="641.2" font-size="56" font-style="italic" text-anchor="start">z</text>
<text font-size="55"><tspan x="1308.3" y="203.1" font-style="italic" textLength="61.58" lengthAdjust="spacingAndGlyphs" stroke="#fff" stroke-width="0.7">Nr</tspan><tspan x="1376.7" y="203.1" textLength="37.86" lengthAdjust="spacingAndGlyphs" stroke="#fff" stroke-width="0.7">=</tspan><tspan x="1414.2" y="203.1" stroke="#fff" stroke-width="0.7">12</tspan></text>
<text font-size="54" transform="translate(931.8 448.4) rotate(-90)"><tspan x="-2" y="0" textLength="69.12" lengthAdjust="spacingAndGlyphs" stroke="#fff" stroke-width="0.5">Re</tspan><tspan x="57.5" y="10" font-size="73.44" textLength="32.92" lengthAdjust="spacingAndGlyphs" stroke="#fff" stroke-width="1.77">[</tspan><tspan x="83.2" y="0" font-style="italic" textLength="37.95" lengthAdjust="spacingAndGlyphs" stroke="#fff" stroke-width="0.5">F</tspan><tspan x="125.6" y="4" font-size="59.4" textLength="22.3" lengthAdjust="spacingAndGlyphs" stroke="#fff" stroke-width="0.99">(</tspan><tspan x="150" y="0" font-style="italic" textLength="21.65" lengthAdjust="spacingAndGlyphs" stroke="#fff" stroke-width="0.5">z</tspan><tspan x="172.2" y="0" textLength="12.15" lengthAdjust="spacingAndGlyphs" stroke="#fff" stroke-width="0.5">,</tspan><tspan x="182.8" y="0" font-style="italic" textLength="19.97" lengthAdjust="spacingAndGlyphs" stroke="#fff" stroke-width="0.5">t</tspan><tspan x="205.4" y="4" font-size="59.4" textLength="19.06" lengthAdjust="spacingAndGlyphs" stroke="#fff" stroke-width="0.99">)</tspan><tspan x="215.6" y="10" font-size="73.44" textLength="32.92" lengthAdjust="spacingAndGlyphs" stroke="#fff" stroke-width="1.77">]</tspan></text>
<g transform="translate(931.8 448.4) rotate(-90)" fill="#fff"><rect x="67.7" y="-39.7" width="4.9" height="57.7"/><rect x="233.8" y="-39.7" width="4.9" height="57.7"/></g>
<clipPath id="cp3"><rect x="536.2" y="749.6" width="791.8" height="599"/></clipPath>
<path d="M665.8 753.2 v7.4 M665.8 1345 v-7.4 M798 753.2 v7.4 M798 1345 v-7.4 M930.2 753.2 v7.4 M930.2 1345 v-7.4 M1062.4 753.2 v7.4 M1062.4 1345 v-7.4 M1194.6 753.2 v7.4 M1194.6 1345 v-7.4 M539.8 1289.9 h4.4 M1324.4 1289.9 h-8 M539.8 1230.1 h4.4 M1324.4 1230.1 h-8 M539.8 1170.4 h4.4 M1324.4 1170.4 h-8 M539.8 1110.6 h4.4 M1324.4 1110.6 h-8 M539.8 1050.9 h4.4 M1324.4 1050.9 h-8 M539.8 991.2 h4.4 M1324.4 991.2 h-8 M539.8 931.4 h4.4 M1324.4 931.4 h-8 M539.8 871.7 h4.4 M1324.4 871.7 h-8 M539.8 811.9 h4.4 M1324.4 811.9 h-8" stroke="#000" stroke-width="1.5" fill="none"/>
<rect x="532.2" y="749.7" width="2.2" height="11" fill="#00ffff"/><rect x="532.2" y="760.7" width="2.2" height="1.6" fill="#00ff00"/><rect x="532.2" y="762.3" width="2.2" height="1.6" fill="#000080"/><rect x="532.2" y="763.9" width="2.2" height="2.6" fill="#ff0000"/>
<g clip-path="url(#cp3)" shape-rendering="crispEdges">
<path d="M531.8 752.3 L533.8 760.8 L535.8 769.3 L537.8 777.7 L539.8 786 L541.8 794.2 L543.8 802.3 L545.8 810.4 L547.8 818.4 L549.8 826.2 L551.8 834 L553.8 841.7 L555.8 849.3 L557.8 856.8 L559.8 864.2 L561.8 871.6 L563.8 878.8 L565.8 885.9 L567.8 892.9 L569.8 899.8 L571.8 906.5 L573.8 913.2 L575.8 919.8 L577.8 926.2 L579.8 932.5 L581.8 938.7 L583.8 944.8 L585.8 950.8 L587.8 956.7 L589.8 962.5 L591.8 968.2 L593.8 973.8 L595.8 979.4 L597.8 984.9 L599.8 990.4 L601.8 995.7 L603.8 1001 L605.8 1006.3 L607.8 1011.4 L609.8 1016.5 L611.8 1021.5 L613.8 1026.4 L615.8 1031.3 L617.8 1036.1 L619.8 1040.8 L621.8 1045.4 L623.8 1050 L625.8 1054.5 L627.8 1059 L629.8 1063.3 L631.8 1067.6 L633.8 1071.8 L635.8 1076 L637.8 1080.1 L639.8 1084.1 L641.8 1088.1 L643.8 1092 L645.8 1095.9 L647.8 1099.8 L649.8 1103.6 L651.8 1107.4 L653.8 1111.1 L655.8 1114.7 L657.8 1118.4 L659.8 1121.9 L661.8 1125.4 L663.8 1128.9 L665.8 1132.3 L667.8 1135.7 L669.8 1139 L671.8 1142.3 L673.8 1145.5 L675.8 1148.6 L677.8 1151.7 L679.8 1154.8 L681.8 1157.8 L683.8 1160.7 L685.8 1163.6 L687.8 1166.4 L689.8 1169.1 L691.8 1171.8 L693.8 1174.5 L695.8 1177.1 L697.8 1179.7 L699.8 1182.2 L701.8 1184.7 L703.8 1187.2 L705.8 1189.6 L707.8 1192 L709.8 1194.3 L711.8 1196.6 L713.8 1198.9 L715.8 1201.2 L717.8 1203.4 L719.8 1205.6 L721.8 1207.7 L723.8 1209.8 L725.8 1211.9 L727.8 1214 L729.8 1216 L731.8 1218 L733.8 1220 L735.8 1221.9 L737.8 1223.8 L739.8 1225.7 L741.8 1227.5 L743.8 1229.4 L745.8 1231.2 L747.8 1233 L749.8 1234.7 L751.8 1236.5 L753.8 1238.2 L755.8 1239.9 L757.8 1241.6 L759.8 1243.3 L761.8 1244.9 L763.8 1246.5 L765.8 1248.1 L767.8 1249.7 L769.8 1251.3 L771.8 1252.8 L773.8 1254.3 L775.8 1255.8 L777.8 1257.3 L779.8 1258.7 L781.8 1260.2 L783.8 1261.6 L785.8 1262.9 L787.8 1264.3 L789.8 1265.6 L791.8 1266.9 L793.8 1268.2 L795.8 1269.5 L797.8 1270.7 L799.8 1271.9 L801.8 1273.1 L803.8 1274.3 L805.8 1275.5 L807.8 1276.6 L809.8 1277.8 L811.8 1278.9 L813.8 1280 L815.8 1281.1 L817.8 1282.2 L819.8 1283.2 L821.8 1284.3 L823.8 1285.3 L825.8 1286.3 L827.8 1287.3 L829.8 1288.3 L831.8 1289.3 L833.8 1290.3 L835.8 1291.2 L837.8 1292.1 L839.8 1293 L841.8 1293.9 L843.8 1294.8 L845.8 1295.6 L847.8 1296.5 L849.8 1297.3 L851.8 1298.1 L853.8 1298.9 L855.8 1299.7 L857.8 1300.5 L859.8 1301.3 L861.8 1302 L863.8 1302.8 L865.8 1303.5 L867.8 1304.3 L869.8 1305 L871.8 1305.7 L873.8 1306.4 L875.8 1307.1 L877.8 1307.8 L879.8 1308.4 L881.8 1309.1 L883.8 1309.7 L885.8 1310.4 L887.8 1311 L889.8 1311.6 L891.8 1312.2 L893.8 1312.8 L895.8 1313.3 L897.8 1313.9 L899.8 1314.4 L901.8 1315 L903.8 1315.5 L905.8 1316 L907.8 1316.5 L909.8 1317 L911.8 1317.5 L913.8 1317.9 L915.8 1318.4 L917.8 1318.9 L919.8 1319.3 L921.8 1319.7 L923.8 1320.2 L925.8 1320.6 L927.8 1321 L929.8 1321.4 L931.8 1321.8 L933.8 1322.2 L935.8 1322.6 L937.8 1323 L939.8 1323.4 L941.8 1323.8 L943.8 1324.1 L945.8 1324.5 L947.8 1324.9 L949.8 1325.2 L951.8 1325.6 L953.8 1326 L955.8 1326.3 L957.8 1326.7 L959.8 1327 L961.8 1327.4 L963.8 1327.7 L965.8 1328.1 L967.8 1328.4 L969.8 1328.8 L971.8 1329.1 L973.8 1329.5 L975.8 1329.8 L977.8 1330.1 L979.8 1330.5 L981.8 1330.8 L983.8 1331.1 L985.8 1331.4 L987.8 1331.7 L989.8 1332.1 L991.8 1332.4 L993.8 1332.7 L995.8 1332.9 L997.8 1333.2 L999.8 1333.5 L1001.8 1333.8 L1003.8 1334 L1005.8 1334.3 L1007.8 1334.6 L1009.8 1334.8 L1011.8 1335 L1013.8 1335.3 L1015.8 1335.5 L1017.8 1335.7 L1019.8 1336 L1021.8 1336.2 L1023.8 1336.4 L1025.8 1336.6 L1027.8 1336.8 L1029.8 1337 L1031.8 1337.2 L1033.8 1337.4 L1035.8 1337.6 L1037.8 1337.8 L1039.8 1338 L1041.8 1338.2 L1043.8 1338.4 L1045.8 1338.6 L1047.8 1338.7 L1049.8 1338.9 L1051.8 1339.1 L1053.8 1339.2 L1055.8 1339.4 L1057.8 1339.6 L1059.8 1339.7 L1061.8 1339.9 L1063.8 1340 L1065.8 1340.1 L1067.8 1340.3 L1069.8 1340.4 L1071.8 1340.5 L1073.8 1340.7 L1075.8 1340.8 L1077.8 1340.9 L1079.8 1341.1 L1081.8 1341.2 L1083.8 1341.3 L1085.8 1341.4 L1087.8 1341.5 L1089.8 1341.6 L1091.8 1341.7 L1093.8 1341.9 L1095.8 1342 L1097.8 1342.1 L1099.8 1342.2 L1101.8 1342.3 L1103.8 1342.4 L1105.8 1342.5 L1107.8 1342.6 L1109.8 1342.7 L1111.8 1342.8 L1113.8 1342.9 L1115.8 1342.9 L1117.8 1343 L1119.8 1343.1 L1121.8 1343.2 L1123.8 1343.3 L1125.8 1343.4 L1127.8 1343.5 L1129.8 1343.6 L1131.8 1343.6 L1133.8 1343.7 L1135.8 1343.8 L1137.8 1343.9 L1139.8 1344 L1141.8 1344 L1143.8 1344.1 L1145.8 1344.2 L1147.8 1344.3 L1149.8 1344.3 L1151.8 1344.4 L1153.8 1344.5 L1155.8 1344.5 L1157.8 1344.6 L1159.8 1344.7 L1161.8 1344.7 L1163.8 1344.8 L1165.8 1344.9 L1167.8 1344.9 L1169.8 1345 L1171.8 1345 L1173.8 1345.1 L1175.8 1345.2 L1177.8 1345.2 L1179.8 1345.3 L1181.8 1345.3 L1183.8 1345.4 L1185.8 1345.4 L1187.8 1345.5 L1189.8 1345.5 L1191.8 1345.6 L1193.8 1345.6 L1195.8 1345.7 L1197.8 1345.7 L1199.8 1345.8 L1201.8 1345.8 L1203.8 1345.9 L1205.8 1345.9 L1207.8 1346 L1209.8 1346 L1211.8 1346.1 L1213.8 1346.1 L1215.8 1346.1 L1217.8 1346.2 L1219.8 1346.2 L1221.8 1346.3 L1223.8 1346.3 L1225.8 1346.3 L1227.8 1346.4 L1229.8 1346.4 L1231.8 1346.5 L1233.8 1346.5 L1235.8 1346.5 L1237.8 1346.6 L1239.8 1346.6 L1241.8 1346.6 L1243.8 1346.7 L1245.8 1346.7 L1247.8 1346.8 L1249.8 1346.8 L1251.8 1346.8 L1253.8 1346.9 L1255.8 1346.9 L1257.8 1346.9 L1259.8 1347 L1261.8 1347 L1263.8 1347 L1265.8 1347 L1267.8 1347.1 L1269.8 1347.1 L1271.8 1347.1 L1273.8 1347.2 L1275.8 1347.2 L1277.8 1347.2 L1279.8 1347.2 L1281.8 1347.3 L1283.8 1347.3 L1285.8 1347.3 L1287.8 1347.3 L1289.8 1347.4 L1291.8 1347.4 L1293.8 1347.4 L1295.8 1347.4 L1297.8 1347.5 L1299.8 1347.5 L1301.8 1347.5 L1303.8 1347.5 L1305.8 1347.6 L1307.8 1347.6 L1309.8 1347.6 L1311.8 1347.6 L1313.8 1347.6 L1315.8 1347.7 L1317.8 1347.7 L1319.8 1347.7 L1321.8 1347.7 L1323.8 1347.7 L1325.8 1347.8 L1327.8 1347.8 L1329.8 1347.8" fill="none" stroke="#ff0000" stroke-width="6" stroke-linejoin="round"/>
<ellipse cx="531.8" cy="752.3" rx="10.7" ry="10.4" fill="#ff0000"/>
<ellipse cx="585" cy="948.4" rx="10.7" ry="10.4" fill="#ff0000"/>
<ellipse cx="638.2" cy="1080.9" rx="10.7" ry="10.4" fill="#ff0000"/>
<ellipse cx="691.4" cy="1171.3" rx="10.7" ry="10.4" fill="#ff0000"/>
<ellipse cx="744.6" cy="1230.1" rx="10.7" ry="10.4" fill="#ff0000"/>
<ellipse cx="797.8" cy="1270.7" rx="10.7" ry="10.4" fill="#ff0000"/>
<ellipse cx="851" cy="1297.8" rx="10.7" ry="10.4" fill="#ff0000"/>
<ellipse cx="904.2" cy="1315.6" rx="10.7" ry="10.4" fill="#ff0000"/>
<ellipse cx="957.4" cy="1326.6" rx="10.7" ry="10.4" fill="#ff0000"/>
<ellipse cx="1010.6" cy="1334.9" rx="10.7" ry="10.4" fill="#ff0000"/>
<ellipse cx="1063.8" cy="1340" rx="10.7" ry="10.4" fill="#ff0000"/>
<ellipse cx="1117" cy="1343" rx="10.7" ry="10.4" fill="#ff0000"/>
<ellipse cx="1170.2" cy="1345" rx="10.7" ry="10.4" fill="#ff0000"/>
<ellipse cx="1223.4" cy="1346.3" rx="10.7" ry="10.4" fill="#ff0000"/>
<ellipse cx="1276.6" cy="1347.2" rx="10.7" ry="10.4" fill="#ff0000"/>
<ellipse cx="1329.8" cy="1347.8" rx="10.7" ry="10.4" fill="#ff0000"/>
<path d="M531.8 752.3 L533.8 760 L535.8 767.5 L537.8 775.1 L539.8 782.5 L541.8 789.9 L543.8 797.2 L545.8 804.5 L547.8 811.6 L549.8 818.7 L551.8 825.7 L553.8 832.6 L555.8 839.5 L557.8 846.3 L559.8 852.9 L561.8 859.5 L563.8 866 L565.8 872.5 L567.8 878.8 L569.8 885 L571.8 891.2 L573.8 897.2 L575.8 903.1 L577.8 909 L579.8 914.7 L581.8 920.4 L583.8 925.9 L585.8 931.4 L587.8 936.7 L589.8 942 L591.8 947.2 L593.8 952.4 L595.8 957.4 L597.8 962.4 L599.8 967.4 L601.8 972.2 L603.8 977 L605.8 981.8 L607.8 986.5 L609.8 991.1 L611.8 995.7 L613.8 1000.2 L615.8 1004.6 L617.8 1009 L619.8 1013.4 L621.8 1017.6 L623.8 1021.9 L625.8 1026.1 L627.8 1030.2 L629.8 1034.3 L631.8 1038.3 L633.8 1042.3 L635.8 1046.3 L637.8 1050.2 L639.8 1054.1 L641.8 1057.9 L643.8 1061.8 L645.8 1065.6 L647.8 1069.3 L649.8 1073 L651.8 1076.7 L653.8 1080.4 L655.8 1084 L657.8 1087.6 L659.8 1091.1 L661.8 1094.6 L663.8 1098 L665.8 1101.4 L667.8 1104.8 L669.8 1108.1 L671.8 1111.4 L673.8 1114.6 L675.8 1117.8 L677.8 1120.9 L679.8 1124 L681.8 1127 L683.8 1130 L685.8 1132.9 L687.8 1135.8 L689.8 1138.6 L691.8 1141.3 L693.8 1144 L695.8 1146.7 L697.8 1149.3 L699.8 1151.9 L701.8 1154.5 L703.8 1157 L705.8 1159.5 L707.8 1162 L709.8 1164.4 L711.8 1166.8 L713.8 1169.1 L715.8 1171.4 L717.8 1173.7 L719.8 1176 L721.8 1178.2 L723.8 1180.4 L725.8 1182.6 L727.8 1184.8 L729.8 1186.9 L731.8 1189 L733.8 1191 L735.8 1193.1 L737.8 1195.1 L739.8 1197.1 L741.8 1199.1 L743.8 1201 L745.8 1203 L747.8 1204.9 L749.8 1206.8 L751.8 1208.6 L753.8 1210.5 L755.8 1212.3 L757.8 1214.1 L759.8 1215.9 L761.8 1217.7 L763.8 1219.4 L765.8 1221.2 L767.8 1222.9 L769.8 1224.6 L771.8 1226.2 L773.8 1227.9 L775.8 1229.5 L777.8 1231.1 L779.8 1232.7 L781.8 1234.3 L783.8 1235.8 L785.8 1237.4 L787.8 1238.9 L789.8 1240.4 L791.8 1241.9 L793.8 1243.3 L795.8 1244.8 L797.8 1246.2 L799.8 1247.6 L801.8 1249 L803.8 1250.4 L805.8 1251.8 L807.8 1253.1 L809.8 1254.5 L811.8 1255.8 L813.8 1257.1 L815.8 1258.4 L817.8 1259.7 L819.8 1261 L821.8 1262.3 L823.8 1263.5 L825.8 1264.7 L827.8 1266 L829.8 1267.2 L831.8 1268.3 L833.8 1269.5 L835.8 1270.7 L837.8 1271.8 L839.8 1272.9 L841.8 1274 L843.8 1275.1 L845.8 1276.1 L847.8 1277.2 L849.8 1278.2 L851.8 1279.2 L853.8 1280.2 L855.8 1281.2 L857.8 1282.2 L859.8 1283.1 L861.8 1284.1 L863.8 1285 L865.8 1286 L867.8 1286.9 L869.8 1287.8 L871.8 1288.7 L873.8 1289.6 L875.8 1290.5 L877.8 1291.4 L879.8 1292.2 L881.8 1293.1 L883.8 1293.9 L885.8 1294.7 L887.8 1295.5 L889.8 1296.3 L891.8 1297 L893.8 1297.7 L895.8 1298.4 L897.8 1299.1 L899.8 1299.8 L901.8 1300.5 L903.8 1301.1 L905.8 1301.7 L907.8 1302.3 L909.8 1302.8 L911.8 1303.4 L913.8 1303.9 L915.8 1304.5 L917.8 1305 L919.8 1305.5 L921.8 1306 L923.8 1306.4 L925.8 1306.9 L927.8 1307.4 L929.8 1307.8 L931.8 1308.3 L933.8 1308.7 L935.8 1309.2 L937.8 1309.6 L939.8 1310 L941.8 1310.5 L943.8 1310.9 L945.8 1311.3 L947.8 1311.8 L949.8 1312.2 L951.8 1312.6 L953.8 1313.1 L955.8 1313.5 L957.8 1314 L959.8 1314.5 L961.8 1314.9 L963.8 1315.4 L965.8 1315.8 L967.8 1316.3 L969.8 1316.8 L971.8 1317.2 L973.8 1317.7 L975.8 1318.2 L977.8 1318.6 L979.8 1319.1 L981.8 1319.6 L983.8 1320 L985.8 1320.5 L987.8 1320.9 L989.8 1321.4 L991.8 1321.8 L993.8 1322.3 L995.8 1322.7 L997.8 1323.1 L999.8 1323.5 L1001.8 1323.9 L1003.8 1324.3 L1005.8 1324.7 L1007.8 1325.1 L1009.8 1325.5 L1011.8 1325.8 L1013.8 1326.2 L1015.8 1326.5 L1017.8 1326.9 L1019.8 1327.2 L1021.8 1327.6 L1023.8 1327.9 L1025.8 1328.2 L1027.8 1328.6 L1029.8 1328.9 L1031.8 1329.2 L1033.8 1329.5 L1035.8 1329.9 L1037.8 1330.2 L1039.8 1330.5 L1041.8 1330.8 L1043.8 1331.1 L1045.8 1331.4 L1047.8 1331.6 L1049.8 1331.9 L1051.8 1332.2 L1053.8 1332.5 L1055.8 1332.7 L1057.8 1333 L1059.8 1333.2 L1061.8 1333.5 L1063.8 1333.7 L1065.8 1333.9 L1067.8 1334.2 L1069.8 1334.4 L1071.8 1334.6 L1073.8 1334.8 L1075.8 1335 L1077.8 1335.2 L1079.8 1335.4 L1081.8 1335.6 L1083.8 1335.8 L1085.8 1336 L1087.8 1336.2 L1089.8 1336.4 L1091.8 1336.6 L1093.8 1336.8 L1095.8 1337 L1097.8 1337.1 L1099.8 1337.3 L1101.8 1337.5 L1103.8 1337.7 L1105.8 1337.8 L1107.8 1338 L1109.8 1338.1 L1111.8 1338.3 L1113.8 1338.5 L1115.8 1338.6 L1117.8 1338.8 L1119.8 1338.9 L1121.8 1339.1 L1123.8 1339.2 L1125.8 1339.3 L1127.8 1339.5 L1129.8 1339.6 L1131.8 1339.8 L1133.8 1339.9 L1135.8 1340 L1137.8 1340.1 L1139.8 1340.3 L1141.8 1340.4 L1143.8 1340.5 L1145.8 1340.7 L1147.8 1340.8 L1149.8 1340.9 L1151.8 1341 L1153.8 1341.1 L1155.8 1341.2 L1157.8 1341.3 L1159.8 1341.5 L1161.8 1341.6 L1163.8 1341.7 L1165.8 1341.8 L1167.8 1341.9 L1169.8 1342 L1171.8 1342.1 L1173.8 1342.2 L1175.8 1342.3 L1177.8 1342.4 L1179.8 1342.5 L1181.8 1342.6 L1183.8 1342.6 L1185.8 1342.7 L1187.8 1342.8 L1189.8 1342.9 L1191.8 1343 L1193.8 1343.1 L1195.8 1343.2 L1197.8 1343.3 L1199.8 1343.3 L1201.8 1343.4 L1203.8 1343.5 L1205.8 1343.6 L1207.8 1343.7 L1209.8 1343.7 L1211.8 1343.8 L1213.8 1343.9 L1215.8 1343.9 L1217.8 1344 L1219.8 1344.1 L1221.8 1344.1 L1223.8 1344.2 L1225.8 1344.3 L1227.8 1344.3 L1229.8 1344.4 L1231.8 1344.5 L1233.8 1344.5 L1235.8 1344.6 L1237.8 1344.6 L1239.8 1344.7 L1241.8 1344.7 L1243.8 1344.8 L1245.8 1344.9 L1247.8 1344.9 L1249.8 1345 L1251.8 1345 L1253.8 1345.1 L1255.8 1345.1 L1257.8 1345.2 L1259.8 1345.2 L1261.8 1345.3 L1263.8 1345.3 L1265.8 1345.4 L1267.8 1345.4 L1269.8 1345.4 L1271.8 1345.5 L1273.8 1345.5 L1275.8 1345.6 L1277.8 1345.6 L1279.8 1345.7 L1281.8 1345.7 L1283.8 1345.8 L1285.8 1345.8 L1287.8 1345.8 L1289.8 1345.9 L1291.8 1345.9 L1293.8 1346 L1295.8 1346 L1297.8 1346 L1299.8 1346.1 L1301.8 1346.1 L1303.8 1346.2 L1305.8 1346.2 L1307.8 1346.2 L1309.8 1346.3 L1311.8 1346.3 L1313.8 1346.3 L1315.8 1346.4 L1317.8 1346.4 L1319.8 1346.4 L1321.8 1346.5 L1323.8 1346.5 L1325.8 1346.5 L1327.8 1346.6 L1329.8 1346.6" fill="none" stroke="#000080" stroke-width="6" stroke-linejoin="round"/>
<polygon points="531.8,741.7 542.5,762.5 521.1,762.5" fill="#000080"/>
<polygon points="585,918.6 595.7,939.4 574.3,939.4" fill="#000080"/>
<polygon points="638.2,1040.4 648.9,1061.2 627.5,1061.2" fill="#000080"/>
<polygon points="691.4,1130.2 702.1,1151 680.7,1151" fill="#000080"/>
<polygon points="744.6,1191.2 755.3,1212 733.9,1212" fill="#000080"/>
<polygon points="797.8,1235.6 808.5,1256.4 787.1,1256.4" fill="#000080"/>
<polygon points="851,1268.2 861.7,1289 840.3,1289" fill="#000080"/>
<polygon points="904.2,1290.6 914.9,1311.4 893.5,1311.4" fill="#000080"/>
<polygon points="957.4,1303.3 968.1,1324.1 946.7,1324.1" fill="#000080"/>
<polygon points="1010.6,1315 1021.3,1335.8 999.9,1335.8" fill="#000080"/>
<polygon points="1063.8,1323.1 1074.5,1343.9 1053.1,1343.9" fill="#000080"/>
<polygon points="1117,1328.1 1127.7,1348.9 1106.3,1348.9" fill="#000080"/>
<polygon points="1170.2,1331.4 1180.9,1352.2 1159.5,1352.2" fill="#000080"/>
<polygon points="1223.4,1333.6 1234.1,1354.4 1212.7,1354.4" fill="#000080"/>
<polygon points="1276.6,1335 1287.3,1355.8 1265.9,1355.8" fill="#000080"/>
<polygon points="1329.8,1336 1340.5,1356.8 1319.1,1356.8" fill="#000080"/>
<path d="M531.8 752.3 L533.8 758.9 L535.8 765.5 L537.8 772 L539.8 778.4 L541.8 784.9 L543.8 791.2 L545.8 797.5 L547.8 803.8 L549.8 810 L551.8 816.2 L553.8 822.3 L555.8 828.3 L557.8 834.3 L559.8 840.2 L561.8 846.1 L563.8 851.9 L565.8 857.7 L567.8 863.4 L569.8 869 L571.8 874.6 L573.8 880.1 L575.8 885.5 L577.8 890.9 L579.8 896.2 L581.8 901.4 L583.8 906.6 L585.8 911.7 L587.8 916.8 L589.8 921.8 L591.8 926.8 L593.8 931.8 L595.8 936.7 L597.8 941.5 L599.8 946.4 L601.8 951.1 L603.8 955.9 L605.8 960.5 L607.8 965.2 L609.8 969.7 L611.8 974.3 L613.8 978.8 L615.8 983.2 L617.8 987.6 L619.8 991.9 L621.8 996.2 L623.8 1000.4 L625.8 1004.6 L627.8 1008.7 L629.8 1012.7 L631.8 1016.7 L633.8 1020.7 L635.8 1024.5 L637.8 1028.3 L639.8 1032.1 L641.8 1035.8 L643.8 1039.5 L645.8 1043.2 L647.8 1046.8 L649.8 1050.3 L651.8 1053.9 L653.8 1057.3 L655.8 1060.8 L657.8 1064.2 L659.8 1067.6 L661.8 1070.9 L663.8 1074.2 L665.8 1077.4 L667.8 1080.7 L669.8 1083.8 L671.8 1087 L673.8 1090.1 L675.8 1093.1 L677.8 1096.2 L679.8 1099.1 L681.8 1102.1 L683.8 1105 L685.8 1107.9 L687.8 1110.7 L689.8 1113.5 L691.8 1116.2 L693.8 1119 L695.8 1121.7 L697.8 1124.3 L699.8 1127 L701.8 1129.6 L703.8 1132.2 L705.8 1134.7 L707.8 1137.3 L709.8 1139.8 L711.8 1142.2 L713.8 1144.7 L715.8 1147.1 L717.8 1149.5 L719.8 1151.8 L721.8 1154.2 L723.8 1156.5 L725.8 1158.8 L727.8 1161 L729.8 1163.2 L731.8 1165.4 L733.8 1167.6 L735.8 1169.7 L737.8 1171.8 L739.8 1173.9 L741.8 1176 L743.8 1178 L745.8 1180 L747.8 1182 L749.8 1183.9 L751.8 1185.9 L753.8 1187.8 L755.8 1189.7 L757.8 1191.5 L759.8 1193.4 L761.8 1195.2 L763.8 1197 L765.8 1198.8 L767.8 1200.6 L769.8 1202.3 L771.8 1204 L773.8 1205.7 L775.8 1207.4 L777.8 1209.1 L779.8 1210.8 L781.8 1212.4 L783.8 1214 L785.8 1215.6 L787.8 1217.2 L789.8 1218.7 L791.8 1220.3 L793.8 1221.8 L795.8 1223.3 L797.8 1224.8 L799.8 1226.3 L801.8 1227.7 L803.8 1229.2 L805.8 1230.6 L807.8 1232.1 L809.8 1233.5 L811.8 1234.9 L813.8 1236.3 L815.8 1237.6 L817.8 1239 L819.8 1240.3 L821.8 1241.7 L823.8 1243 L825.8 1244.3 L827.8 1245.6 L829.8 1246.8 L831.8 1248.1 L833.8 1249.3 L835.8 1250.5 L837.8 1251.8 L839.8 1252.9 L841.8 1254.1 L843.8 1255.3 L845.8 1256.4 L847.8 1257.5 L849.8 1258.6 L851.8 1259.7 L853.8 1260.8 L855.8 1261.9 L857.8 1262.9 L859.8 1264 L861.8 1265 L863.8 1266 L865.8 1267.1 L867.8 1268.1 L869.8 1269.1 L871.8 1270 L873.8 1271 L875.8 1272 L877.8 1272.9 L879.8 1273.8 L881.8 1274.8 L883.8 1275.7 L885.8 1276.6 L887.8 1277.5 L889.8 1278.3 L891.8 1279.2 L893.8 1280 L895.8 1280.9 L897.8 1281.7 L899.8 1282.5 L901.8 1283.3 L903.8 1284 L905.8 1284.8 L907.8 1285.6 L909.8 1286.3 L911.8 1287 L913.8 1287.7 L915.8 1288.5 L917.8 1289.2 L919.8 1289.8 L921.8 1290.5 L923.8 1291.2 L925.8 1291.8 L927.8 1292.5 L929.8 1293.1 L931.8 1293.8 L933.8 1294.4 L935.8 1295 L937.8 1295.7 L939.8 1296.3 L941.8 1296.9 L943.8 1297.5 L945.8 1298.1 L947.8 1298.7 L949.8 1299.3 L951.8 1299.9 L953.8 1300.4 L955.8 1301 L957.8 1301.6 L959.8 1302.2 L961.8 1302.8 L963.8 1303.4 L965.8 1303.9 L967.8 1304.5 L969.8 1305.1 L971.8 1305.6 L973.8 1306.2 L975.8 1306.8 L977.8 1307.3 L979.8 1307.9 L981.8 1308.4 L983.8 1308.9 L985.8 1309.5 L987.8 1310 L989.8 1310.5 L991.8 1311 L993.8 1311.6 L995.8 1312.1 L997.8 1312.5 L999.8 1313 L1001.8 1313.5 L1003.8 1314 L1005.8 1314.4 L1007.8 1314.9 L1009.8 1315.3 L1011.8 1315.8 L1013.8 1316.2 L1015.8 1316.6 L1017.8 1317 L1019.8 1317.4 L1021.8 1317.8 L1023.8 1318.2 L1025.8 1318.6 L1027.8 1319 L1029.8 1319.4 L1031.8 1319.7 L1033.8 1320.1 L1035.8 1320.5 L1037.8 1320.8 L1039.8 1321.2 L1041.8 1321.6 L1043.8 1321.9 L1045.8 1322.3 L1047.8 1322.6 L1049.8 1322.9 L1051.8 1323.3 L1053.8 1323.6 L1055.8 1323.9 L1057.8 1324.2 L1059.8 1324.6 L1061.8 1324.9 L1063.8 1325.2 L1065.8 1325.5 L1067.8 1325.8 L1069.8 1326.1 L1071.8 1326.4 L1073.8 1326.7 L1075.8 1327 L1077.8 1327.3 L1079.8 1327.6 L1081.8 1327.9 L1083.8 1328.2 L1085.8 1328.5 L1087.8 1328.8 L1089.8 1329.1 L1091.8 1329.3 L1093.8 1329.6 L1095.8 1329.9 L1097.8 1330.2 L1099.8 1330.4 L1101.8 1330.7 L1103.8 1330.9 L1105.8 1331.2 L1107.8 1331.4 L1109.8 1331.7 L1111.8 1331.9 L1113.8 1332.1 L1115.8 1332.4 L1117.8 1332.6 L1119.8 1332.8 L1121.8 1333 L1123.8 1333.3 L1125.8 1333.5 L1127.8 1333.7 L1129.8 1333.9 L1131.8 1334.1 L1133.8 1334.3 L1135.8 1334.5 L1137.8 1334.7 L1139.8 1334.9 L1141.8 1335.1 L1143.8 1335.3 L1145.8 1335.5 L1147.8 1335.7 L1149.8 1335.9 L1151.8 1336.1 L1153.8 1336.2 L1155.8 1336.4 L1157.8 1336.6 L1159.8 1336.7 L1161.8 1336.9 L1163.8 1337 L1165.8 1337.2 L1167.8 1337.3 L1169.8 1337.5 L1171.8 1337.6 L1173.8 1337.7 L1175.8 1337.9 L1177.8 1338 L1179.8 1338.1 L1181.8 1338.2 L1183.8 1338.4 L1185.8 1338.5 L1187.8 1338.6 L1189.8 1338.7 L1191.8 1338.8 L1193.8 1338.9 L1195.8 1339 L1197.8 1339.1 L1199.8 1339.2 L1201.8 1339.3 L1203.8 1339.4 L1205.8 1339.5 L1207.8 1339.6 L1209.8 1339.7 L1211.8 1339.8 L1213.8 1339.9 L1215.8 1340 L1217.8 1340.1 L1219.8 1340.2 L1221.8 1340.2 L1223.8 1340.3 L1225.8 1340.4 L1227.8 1340.5 L1229.8 1340.5 L1231.8 1340.6 L1233.8 1340.7 L1235.8 1340.7 L1237.8 1340.8 L1239.8 1340.9 L1241.8 1340.9 L1243.8 1341 L1245.8 1341 L1247.8 1341.1 L1249.8 1341.2 L1251.8 1341.2 L1253.8 1341.3 L1255.8 1341.3 L1257.8 1341.4 L1259.8 1341.4 L1261.8 1341.5 L1263.8 1341.5 L1265.8 1341.6 L1267.8 1341.7 L1269.8 1341.7 L1271.8 1341.8 L1273.8 1341.8 L1275.8 1341.9 L1277.8 1341.9 L1279.8 1342 L1281.8 1342.1 L1283.8 1342.1 L1285.8 1342.2 L1287.8 1342.2 L1289.8 1342.3 L1291.8 1342.3 L1293.8 1342.4 L1295.8 1342.5 L1297.8 1342.5 L1299.8 1342.6 L1301.8 1342.6 L1303.8 1342.7 L1305.8 1342.7 L1307.8 1342.8 L1309.8 1342.8 L1311.8 1342.9 L1313.8 1343 L1315.8 1343 L1317.8 1343.1 L1319.8 1343.1 L1321.8 1343.2 L1323.8 1343.2 L1325.8 1343.3 L1327.8 1343.3 L1329.8 1343.4" fill="none" stroke="#00ff00" stroke-width="6" stroke-linejoin="round"/>
<rect x="521" y="741.8" width="21.5" height="20.9" fill="#00ff00"/>
<rect x="574.2" y="899.2" width="21.5" height="20.9" fill="#00ff00"/>
<rect x="627.4" y="1018.6" width="21.5" height="20.9" fill="#00ff00"/>
<rect x="680.6" y="1105.2" width="21.5" height="20.9" fill="#00ff00"/>
<rect x="733.8" y="1168.3" width="21.5" height="20.9" fill="#00ff00"/>
<rect x="787" y="1214.3" width="21.5" height="20.9" fill="#00ff00"/>
<rect x="840.2" y="1248.8" width="21.5" height="20.9" fill="#00ff00"/>
<rect x="893.4" y="1273.8" width="21.5" height="20.9" fill="#00ff00"/>
<rect x="946.6" y="1291" width="21.5" height="20.9" fill="#00ff00"/>
<rect x="999.8" y="1305" width="21.5" height="20.9" fill="#00ff00"/>
<rect x="1053" y="1314.8" width="21.5" height="20.9" fill="#00ff00"/>
<rect x="1106.2" y="1322" width="21.5" height="20.9" fill="#00ff00"/>
<rect x="1159.4" y="1327" width="21.5" height="20.9" fill="#00ff00"/>
<rect x="1212.6" y="1329.8" width="21.5" height="20.9" fill="#00ff00"/>
<rect x="1265.8" y="1331.5" width="21.5" height="20.9" fill="#00ff00"/>
<rect x="1319" y="1333" width="21.5" height="20.9" fill="#00ff00"/>
<path d="M531.8 752.3 L533.8 758.1 L535.8 763.8 L537.8 769.4 L539.8 775.1 L541.8 780.7 L543.8 786.3 L545.8 791.8 L547.8 797.3 L549.8 802.7 L551.8 808.1 L553.8 813.5 L555.8 818.8 L557.8 824.1 L559.8 829.3 L561.8 834.5 L563.8 839.7 L565.8 844.8 L567.8 849.8 L569.8 854.8 L571.8 859.8 L573.8 864.7 L575.8 869.6 L577.8 874.4 L579.8 879.2 L581.8 883.9 L583.8 888.6 L585.8 893.2 L587.8 897.8 L589.8 902.4 L591.8 906.9 L593.8 911.4 L595.8 915.9 L597.8 920.3 L599.8 924.7 L601.8 929 L603.8 933.4 L605.8 937.6 L607.8 941.9 L609.8 946.1 L611.8 950.3 L613.8 954.4 L615.8 958.5 L617.8 962.5 L619.8 966.6 L621.8 970.5 L623.8 974.5 L625.8 978.4 L627.8 982.3 L629.8 986.1 L631.8 989.9 L633.8 993.6 L635.8 997.3 L637.8 1001 L639.8 1004.6 L641.8 1008.2 L643.8 1011.8 L645.8 1015.3 L647.8 1018.9 L649.8 1022.4 L651.8 1025.9 L653.8 1029.3 L655.8 1032.7 L657.8 1036.1 L659.8 1039.5 L661.8 1042.8 L663.8 1046.1 L665.8 1049.4 L667.8 1052.6 L669.8 1055.8 L671.8 1059 L673.8 1062.1 L675.8 1065.2 L677.8 1068.2 L679.8 1071.2 L681.8 1074.1 L683.8 1077.1 L685.8 1079.9 L687.8 1082.7 L689.8 1085.5 L691.8 1088.2 L693.8 1090.9 L695.8 1093.6 L697.8 1096.2 L699.8 1098.8 L701.8 1101.3 L703.8 1103.8 L705.8 1106.3 L707.8 1108.8 L709.8 1111.2 L711.8 1113.6 L713.8 1115.9 L715.8 1118.3 L717.8 1120.6 L719.8 1122.9 L721.8 1125.2 L723.8 1127.4 L725.8 1129.7 L727.8 1131.9 L729.8 1134.1 L731.8 1136.2 L733.8 1138.4 L735.8 1140.5 L737.8 1142.7 L739.8 1144.8 L741.8 1146.9 L743.8 1149 L745.8 1151 L747.8 1153.1 L749.8 1155.2 L751.8 1157.2 L753.8 1159.3 L755.8 1161.3 L757.8 1163.3 L759.8 1165.3 L761.8 1167.3 L763.8 1169.3 L765.8 1171.2 L767.8 1173.2 L769.8 1175.1 L771.8 1177 L773.8 1178.9 L775.8 1180.8 L777.8 1182.6 L779.8 1184.4 L781.8 1186.3 L783.8 1188 L785.8 1189.8 L787.8 1191.5 L789.8 1193.2 L791.8 1194.9 L793.8 1196.6 L795.8 1198.2 L797.8 1199.8 L799.8 1201.4 L801.8 1202.9 L803.8 1204.5 L805.8 1206 L807.8 1207.5 L809.8 1209 L811.8 1210.5 L813.8 1212 L815.8 1213.4 L817.8 1214.9 L819.8 1216.3 L821.8 1217.7 L823.8 1219.1 L825.8 1220.5 L827.8 1221.8 L829.8 1223.2 L831.8 1224.5 L833.8 1225.8 L835.8 1227.1 L837.8 1228.3 L839.8 1229.6 L841.8 1230.8 L843.8 1232.1 L845.8 1233.3 L847.8 1234.4 L849.8 1235.6 L851.8 1236.8 L853.8 1237.9 L855.8 1239 L857.8 1240.1 L859.8 1241.2 L861.8 1242.3 L863.8 1243.3 L865.8 1244.4 L867.8 1245.4 L869.8 1246.4 L871.8 1247.4 L873.8 1248.4 L875.8 1249.4 L877.8 1250.4 L879.8 1251.4 L881.8 1252.3 L883.8 1253.3 L885.8 1254.2 L887.8 1255.2 L889.8 1256.1 L891.8 1257 L893.8 1257.9 L895.8 1258.8 L897.8 1259.7 L899.8 1260.6 L901.8 1261.5 L903.8 1262.4 L905.8 1263.3 L907.8 1264.2 L909.8 1265.1 L911.8 1266 L913.8 1266.9 L915.8 1267.7 L917.8 1268.6 L919.8 1269.5 L921.8 1270.4 L923.8 1271.2 L925.8 1272.1 L927.8 1272.9 L929.8 1273.8 L931.8 1274.6 L933.8 1275.4 L935.8 1276.2 L937.8 1277 L939.8 1277.8 L941.8 1278.6 L943.8 1279.4 L945.8 1280.1 L947.8 1280.9 L949.8 1281.6 L951.8 1282.3 L953.8 1283 L955.8 1283.7 L957.8 1284.3 L959.8 1285 L961.8 1285.6 L963.8 1286.2 L965.8 1286.8 L967.8 1287.4 L969.8 1288 L971.8 1288.6 L973.8 1289.2 L975.8 1289.7 L977.8 1290.3 L979.8 1290.8 L981.8 1291.4 L983.8 1291.9 L985.8 1292.4 L987.8 1292.9 L989.8 1293.5 L991.8 1294 L993.8 1294.5 L995.8 1295 L997.8 1295.5 L999.8 1296 L1001.8 1296.5 L1003.8 1297 L1005.8 1297.6 L1007.8 1298.1 L1009.8 1298.6 L1011.8 1299.1 L1013.8 1299.6 L1015.8 1300.2 L1017.8 1300.7 L1019.8 1301.2 L1021.8 1301.8 L1023.8 1302.3 L1025.8 1302.8 L1027.8 1303.4 L1029.8 1303.9 L1031.8 1304.5 L1033.8 1305 L1035.8 1305.5 L1037.8 1306 L1039.8 1306.5 L1041.8 1307 L1043.8 1307.5 L1045.8 1308 L1047.8 1308.5 L1049.8 1309 L1051.8 1309.5 L1053.8 1309.9 L1055.8 1310.4 L1057.8 1310.8 L1059.8 1311.2 L1061.8 1311.6 L1063.8 1312 L1065.8 1312.4 L1067.8 1312.7 L1069.8 1313.1 L1071.8 1313.4 L1073.8 1313.8 L1075.8 1314.1 L1077.8 1314.5 L1079.8 1314.8 L1081.8 1315.1 L1083.8 1315.4 L1085.8 1315.7 L1087.8 1316 L1089.8 1316.3 L1091.8 1316.6 L1093.8 1316.9 L1095.8 1317.2 L1097.8 1317.5 L1099.8 1317.7 L1101.8 1318 L1103.8 1318.3 L1105.8 1318.6 L1107.8 1318.9 L1109.8 1319.2 L1111.8 1319.4 L1113.8 1319.7 L1115.8 1320 L1117.8 1320.3 L1119.8 1320.6 L1121.8 1320.9 L1123.8 1321.2 L1125.8 1321.5 L1127.8 1321.8 L1129.8 1322.1 L1131.8 1322.4 L1133.8 1322.7 L1135.8 1323 L1137.8 1323.3 L1139.8 1323.6 L1141.8 1323.9 L1143.8 1324.1 L1145.8 1324.4 L1147.8 1324.7 L1149.8 1325 L1151.8 1325.3 L1153.8 1325.6 L1155.8 1325.8 L1157.8 1326.1 L1159.8 1326.4 L1161.8 1326.6 L1163.8 1326.9 L1165.8 1327.2 L1167.8 1327.4 L1169.8 1327.7 L1171.8 1327.9 L1173.8 1328.1 L1175.8 1328.4 L1177.8 1328.6 L1179.8 1328.9 L1181.8 1329.1 L1183.8 1329.3 L1185.8 1329.6 L1187.8 1329.8 L1189.8 1330 L1191.8 1330.3 L1193.8 1330.5 L1195.8 1330.7 L1197.8 1330.9 L1199.8 1331.1 L1201.8 1331.3 L1203.8 1331.6 L1205.8 1331.8 L1207.8 1332 L1209.8 1332.2 L1211.8 1332.4 L1213.8 1332.5 L1215.8 1332.7 L1217.8 1332.9 L1219.8 1333.1 L1221.8 1333.3 L1223.8 1333.4 L1225.8 1333.6 L1227.8 1333.8 L1229.8 1333.9 L1231.8 1334.1 L1233.8 1334.2 L1235.8 1334.4 L1237.8 1334.5 L1239.8 1334.7 L1241.8 1334.8 L1243.8 1334.9 L1245.8 1335.1 L1247.8 1335.2 L1249.8 1335.3 L1251.8 1335.5 L1253.8 1335.6 L1255.8 1335.7 L1257.8 1335.8 L1259.8 1336 L1261.8 1336.1 L1263.8 1336.2 L1265.8 1336.3 L1267.8 1336.5 L1269.8 1336.6 L1271.8 1336.7 L1273.8 1336.8 L1275.8 1337 L1277.8 1337.1 L1279.8 1337.2 L1281.8 1337.3 L1283.8 1337.4 L1285.8 1337.6 L1287.8 1337.7 L1289.8 1337.8 L1291.8 1337.9 L1293.8 1338 L1295.8 1338.1 L1297.8 1338.3 L1299.8 1338.4 L1301.8 1338.5 L1303.8 1338.6 L1305.8 1338.7 L1307.8 1338.8 L1309.8 1338.9 L1311.8 1339.1 L1313.8 1339.2 L1315.8 1339.3 L1317.8 1339.4 L1319.8 1339.5 L1321.8 1339.6 L1323.8 1339.7 L1325.8 1339.8 L1327.8 1339.9 L1329.8 1340" fill="none" stroke="#00ffff" stroke-width="6" stroke-linejoin="round"/>
<polygon points="531.8,743.3 540.8,752.3 531.8,761.3 522.8,752.3" fill="#00ffff"/>
<polygon points="585,882.4 594,891.4 585,900.4 576,891.4" fill="#00ffff"/>
<polygon points="638.2,992.7 647.2,1001.7 638.2,1010.7 629.2,1001.7" fill="#00ffff"/>
<polygon points="691.4,1078.7 700.4,1087.7 691.4,1096.7 682.4,1087.7" fill="#00ffff"/>
<polygon points="744.6,1140.8 753.6,1149.8 744.6,1158.8 735.6,1149.8" fill="#00ffff"/>
<polygon points="797.8,1190.8 806.8,1199.8 797.8,1208.8 788.8,1199.8" fill="#00ffff"/>
<polygon points="851,1227.3 860,1236.3 851,1245.3 842,1236.3" fill="#00ffff"/>
<polygon points="904.2,1253.6 913.2,1262.6 904.2,1271.6 895.2,1262.6" fill="#00ffff"/>
<polygon points="957.4,1275.2 966.4,1284.2 957.4,1293.2 948.4,1284.2" fill="#00ffff"/>
<polygon points="1010.6,1289.8 1019.6,1298.8 1010.6,1307.8 1001.6,1298.8" fill="#00ffff"/>
<polygon points="1063.8,1303 1072.8,1312 1063.8,1321 1054.8,1312" fill="#00ffff"/>
<polygon points="1117,1311.2 1126,1320.2 1117,1329.2 1108,1320.2" fill="#00ffff"/>
<polygon points="1170.2,1318.7 1179.2,1327.7 1170.2,1336.7 1161.2,1327.7" fill="#00ffff"/>
<polygon points="1223.4,1324.4 1232.4,1333.4 1223.4,1342.4 1214.4,1333.4" fill="#00ffff"/>
<polygon points="1276.6,1328 1285.6,1337 1276.6,1346 1267.6,1337" fill="#00ffff"/>
<polygon points="1329.8,1331 1338.8,1340 1329.8,1349 1320.8,1340" fill="#00ffff"/>
</g>
<rect x="537" y="750.4" width="790.2" height="597.4" fill="none" stroke="#000" stroke-width="5.6"/>
<rect x="532.2" y="766.5" width="3" height="584.1" fill="#000"/>
<rect x="1144.6" y="766" width="168.3" height="159" fill="#fff" stroke="#000" stroke-width="6"/>
<path d="M1147.5 783.6 H1198.8 l5 3 l-5 3 H1147.5 Z" fill="#ff0000"/>
<ellipse cx="1160.8" cy="786.6" rx="9.7" ry="10.4" fill="#ff0000"/>
<ellipse cx="1188.8" cy="786.6" rx="9.7" ry="10.4" fill="#ff0000"/>
<text font-size="31"><tspan x="1211" y="795.8" textLength="68" lengthAdjust="spacingAndGlyphs">Nr=5</tspan></text>
<path d="M1147.5 821.9 H1198.8 l5 3 l-5 3 H1147.5 Z" fill="#000080"/>
<polygon points="1160.8,815.3 1171.7,836.1 1149.9,836.1" fill="#000080"/>
<polygon points="1188.8,815.3 1199.7,836.1 1177.9,836.1" fill="#000080"/>
<text font-size="31"><tspan x="1211" y="833.7" textLength="68" lengthAdjust="spacingAndGlyphs">Nr=7</tspan></text>
<path d="M1147.5 860.5 H1198.8 l5 3 l-5 3 H1147.5 Z" fill="#00ff00"/>
<rect x="1149.8" y="853" width="21.9" height="20.9" fill="#00ff00"/>
<rect x="1177.8" y="853" width="21.9" height="20.9" fill="#00ff00"/>
<text font-size="31"><tspan x="1211" y="872.4" textLength="68" lengthAdjust="spacingAndGlyphs">Nr=9</tspan></text>
<path d="M1147.5 898.8 H1198.8 l5 3 l-5 3 H1147.5 Z" fill="#00ffff"/>
<polygon points="1158.8,893.1 1166.8,901.8 1158.8,910.5 1150.8,901.8" fill="#00ffff"/>
<polygon points="1190.8,893.1 1198.8,901.8 1190.8,910.5 1182.8,901.8" fill="#00ffff"/>
<text font-size="31"><tspan x="1211" y="910.7" textLength="84.05" lengthAdjust="spacingAndGlyphs">Nr=12</tspan></text>
<text transform="translate(530 1359.6) scale(0.97 1)" font-size="25" text-anchor="end">0</text>
<text transform="translate(530 1299.9) scale(0.97 1)" font-size="25" text-anchor="end">0.1</text>
<text transform="translate(530 1240.1) scale(0.97 1)" font-size="25" text-anchor="end">0.2</text>
<text transform="translate(530 1180.4) scale(0.97 1)" font-size="25" text-anchor="end">0.3</text>
<text transform="translate(530 1120.6) scale(0.97 1)" font-size="25" text-anchor="end">0.4</text>
<text transform="translate(530 1060.9) scale(0.97 1)" font-size="25" text-anchor="end">0.5</text>
<text transform="translate(530 1001.2) scale(0.97 1)" font-size="25" text-anchor="end">0.6</text>
<text transform="translate(530 941.4) scale(0.97 1)" font-size="25" text-anchor="end">0.7</text>
<text transform="translate(530 881.7) scale(0.97 1)" font-size="25" text-anchor="end">0.8</text>
<text transform="translate(530 821.9) scale(0.97 1)" font-size="25" text-anchor="end">0.9</text>
<text transform="translate(530 760.7) scale(0.97 1)" font-size="25" text-anchor="end">1</text>
<text transform="translate(538.5 1377.3) scale(0.96 1)" font-size="25" text-anchor="middle">0</text>
<text transform="translate(668.9 1377.3) scale(0.96 1)" font-size="25" text-anchor="middle">0.1</text>
<text transform="translate(802.3 1377.3) scale(0.96 1)" font-size="25" text-anchor="middle">0.2</text>
<text transform="translate(934 1377.3) scale(0.96 1)" font-size="25" text-anchor="middle">0.3</text>
<text transform="translate(1066.4 1377.3) scale(0.96 1)" font-size="25" text-anchor="middle">0.4</text>
<text transform="translate(1198 1377.3) scale(0.96 1)" font-size="25" text-anchor="middle">0.5</text>
<text transform="translate(1333 1377.3) scale(0.96 1)" font-size="25" text-anchor="middle">0.6</text>
<text transform="translate(975.5 1387) scale(1.1 1.0)" font-size="56" font-style="italic" text-anchor="start">z</text>
<text font-size="56"><tspan x="414.2" y="1333.3" textLength="22.01" lengthAdjust="spacingAndGlyphs" stroke="#fff" stroke-width="1.1">(</tspan><tspan x="433.2" y="1333.3" font-style="italic" textLength="28.56" lengthAdjust="spacingAndGlyphs" stroke="#fff" stroke-width="0.6">b</tspan><tspan x="464" y="1333.3" textLength="20.52" lengthAdjust="spacingAndGlyphs" stroke="#fff" stroke-width="1.1">)</tspan></text>
<text font-size="57" transform="translate(474 1072.5) rotate(-90)"><tspan x="-3" y="0" font-style="italic" textLength="32.2" lengthAdjust="spacingAndGlyphs" stroke="#fff" stroke-width="0.5">θ</tspan><tspan x="30.8" y="5" font-size="59.85" textLength="18.99" lengthAdjust="spacingAndGlyphs" stroke="#fff" stroke-width="0.95">(</tspan><tspan x="49.8" y="0" font-style="italic" textLength="25.07" lengthAdjust="spacingAndGlyphs" stroke="#fff" stroke-width="0.5">z</tspan><tspan x="75.5" y="0" textLength="14.96" lengthAdjust="spacingAndGlyphs" stroke="#fff" stroke-width="0.5">,</tspan><tspan x="89.5" y="0" font-style="italic" textLength="18.22" lengthAdjust="spacingAndGlyphs" stroke="#fff" stroke-width="0.5">t</tspan><tspan x="112.5" y="5" font-size="59.85" textLength="16.14" lengthAdjust="spacingAndGlyphs" stroke="#fff" stroke-width="0.95">)</tspan></text>
</svg>
</body></html>
